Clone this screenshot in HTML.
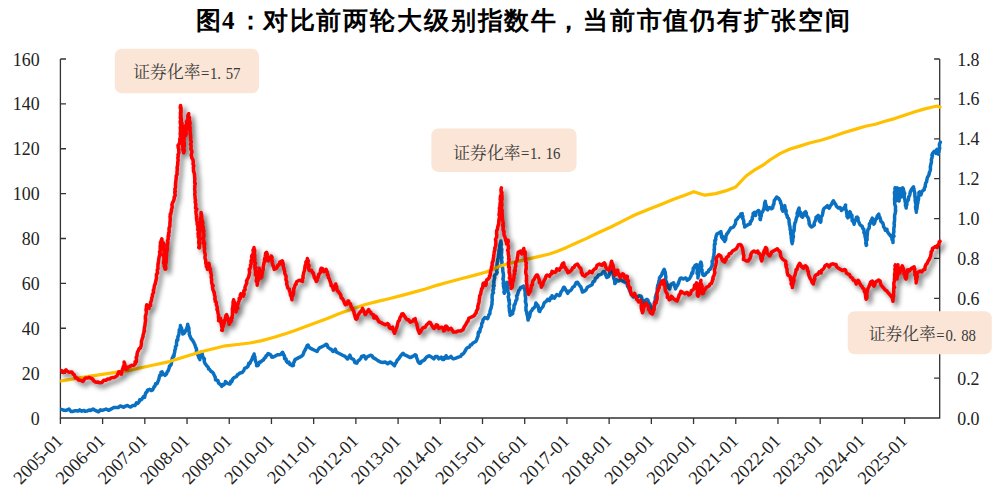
<!DOCTYPE html>
<html><head><meta charset="utf-8"><title>chart</title>
<style>html,body{margin:0;padding:0;background:#fff}svg{display:block}text{font-family:"Liberation Serif",serif}</style></head><body>
<svg width="997" height="493" viewBox="0 0 997 493">
<rect width="997" height="493" fill="#fff"/>
<g fill="#000" font-weight="bold" font-size="25" style="font-family:'Liberation Serif','Noto Serif CJK SC',serif"><text x="196.13" y="29.40">图</text><text x="228.24" y="29.40" font-size="24.90" font-weight="bold" text-anchor="middle" fill="#000" stroke="none">4</text><text x="237.5" y="29.40">：</text><text x="262.81" y="29.40" textLength="293.4" lengthAdjust="spacing">对比前两轮大级别指数牛</text><text x="556.18" y="29.40">，</text><text x="582.85" y="29.40" textLength="266.7" lengthAdjust="spacing">当前市值仍有扩张空间</text></g>
<path d="M60.4 59.0 V418.0 H939.7 V59.0" fill="none" stroke="#333" stroke-width="1.3"/><path d="M60.4 373.12 h5.6 M60.4 328.25 h5.6 M60.4 283.38 h5.6 M60.4 238.50 h5.6 M60.4 193.62 h5.6 M60.4 148.75 h5.6 M60.4 103.88 h5.6 M60.4 59.00 h5.6 M939.7 378.11 h-5.6 M939.7 338.22 h-5.6 M939.7 298.33 h-5.6 M939.7 258.44 h-5.6 M939.7 218.56 h-5.6 M939.7 178.67 h-5.6 M939.7 138.78 h-5.6 M939.7 98.89 h-5.6 M939.7 59.00 h-5.6 M60.40 418.0 v6 M102.61 418.0 v6 M144.82 418.0 v6 M187.03 418.0 v6 M229.24 418.0 v6 M271.45 418.0 v6 M313.66 418.0 v6 M355.87 418.0 v6 M398.08 418.0 v6 M440.29 418.0 v6 M482.50 418.0 v6 M524.71 418.0 v6 M566.92 418.0 v6 M609.13 418.0 v6 M651.34 418.0 v6 M693.55 418.0 v6 M735.76 418.0 v6 M777.97 418.0 v6 M820.18 418.0 v6 M862.39 418.0 v6 M904.60 418.0 v6" fill="none" stroke="#333" stroke-width="1.3"/>
<g font-size="17.90" fill="#222"><text x="39.6" y="424.50" text-anchor="end">0</text><text x="39.6" y="379.62" text-anchor="end">20</text><text x="39.6" y="334.75" text-anchor="end">40</text><text x="39.6" y="289.88" text-anchor="end">60</text><text x="39.6" y="245.00" text-anchor="end">80</text><text x="39.6" y="200.12" text-anchor="end">100</text><text x="39.6" y="155.25" text-anchor="end">120</text><text x="39.6" y="110.38" text-anchor="end">140</text><text x="39.6" y="65.50" text-anchor="end">160</text><text x="957.2" y="424.50">0.0</text><text x="957.2" y="384.61">0.2</text><text x="957.2" y="344.72">0.4</text><text x="957.2" y="304.83">0.6</text><text x="957.2" y="264.94">0.8</text><text x="957.2" y="225.06">1.0</text><text x="957.2" y="185.17">1.2</text><text x="957.2" y="145.28">1.4</text><text x="957.2" y="105.39">1.6</text><text x="957.2" y="65.50">1.8</text><text transform="translate(64.10 441.9) rotate(-45)" text-anchor="end" font-size="18.4">2005-01</text><text transform="translate(106.31 441.9) rotate(-45)" text-anchor="end" font-size="18.4">2006-01</text><text transform="translate(148.52 441.9) rotate(-45)" text-anchor="end" font-size="18.4">2007-01</text><text transform="translate(190.73 441.9) rotate(-45)" text-anchor="end" font-size="18.4">2008-01</text><text transform="translate(232.94 441.9) rotate(-45)" text-anchor="end" font-size="18.4">2009-01</text><text transform="translate(275.15 441.9) rotate(-45)" text-anchor="end" font-size="18.4">2010-01</text><text transform="translate(317.36 441.9) rotate(-45)" text-anchor="end" font-size="18.4">2011-01</text><text transform="translate(359.57 441.9) rotate(-45)" text-anchor="end" font-size="18.4">2012-01</text><text transform="translate(401.78 441.9) rotate(-45)" text-anchor="end" font-size="18.4">2013-01</text><text transform="translate(443.99 441.9) rotate(-45)" text-anchor="end" font-size="18.4">2014-01</text><text transform="translate(486.20 441.9) rotate(-45)" text-anchor="end" font-size="18.4">2015-01</text><text transform="translate(528.41 441.9) rotate(-45)" text-anchor="end" font-size="18.4">2016-01</text><text transform="translate(570.62 441.9) rotate(-45)" text-anchor="end" font-size="18.4">2017-01</text><text transform="translate(612.83 441.9) rotate(-45)" text-anchor="end" font-size="18.4">2018-01</text><text transform="translate(655.04 441.9) rotate(-45)" text-anchor="end" font-size="18.4">2019-01</text><text transform="translate(697.25 441.9) rotate(-45)" text-anchor="end" font-size="18.4">2020-01</text><text transform="translate(739.46 441.9) rotate(-45)" text-anchor="end" font-size="18.4">2021-01</text><text transform="translate(781.67 441.9) rotate(-45)" text-anchor="end" font-size="18.4">2022-01</text><text transform="translate(823.88 441.9) rotate(-45)" text-anchor="end" font-size="18.4">2023-01</text><text transform="translate(866.09 441.9) rotate(-45)" text-anchor="end" font-size="18.4">2024-01</text><text transform="translate(908.30 441.9) rotate(-45)" text-anchor="end" font-size="18.4">2025-01</text></g>
<clipPath id="cp"><rect x="60.2" y="40" width="890" height="400"/></clipPath><g clip-path="url(#cp)">
<defs><filter id="sh" x="-5%" y="-5%" width="110%" height="115%"><feGaussianBlur stdDeviation="2.4"/></filter></defs>
<path d="M60.4 409.1 L62.3 409.6 L64.2 410.3 L65.9 410.4 L67.2 410.0 L69.0 409.0 L71.0 411.5 L72.2 411.6 L74.5 410.8 L76.0 410.8 L78.2 411.1 L79.7 409.9 L81.8 411.2 L84.0 410.4 L85.1 411.3 L86.9 411.1 L89.1 410.0 L90.5 410.5 L93.1 409.1 L94.3 409.8 L96.4 410.8 L98.6 411.8 L100.5 409.8 L102.0 410.3 L103.7 410.0 L106.0 409.0 L107.8 410.0 L109.0 410.3 L111.0 409.1 L112.5 408.3 L114.2 407.4 L116.6 407.4 L118.3 407.6 L120.3 405.9 L121.7 406.4 L123.7 407.3 L125.6 406.1 L127.4 405.5 L128.8 406.4 L130.6 407.0 L132.9 405.6 L134.9 405.6 L136.4 402.9 L137.8 403.5 L139.1 401.9 L139.7 399.7 L141.4 399.8 L142.8 397.8 L143.5 396.6 L144.6 397.3 L145.1 394.9 L145.7 392.9 L147.0 391.8 L147.5 390.1 L149.6 389.3 L151.2 390.6 L152.7 389.9 L154.1 386.6 L154.8 386.4 L155.6 383.8 L157.1 383.7 L158.0 381.4 L158.5 380.3 L158.9 379.0 L159.3 377.0 L159.9 375.0 L161.4 375.1 L161.0 372.4 L162.1 371.8 L163.1 374.3 L163.8 374.0 L165.0 375.5 L166.4 374.1 L167.1 372.1 L168.2 370.6 L169.2 367.8 L169.4 366.1 L169.6 366.6 L171.1 364.7 L171.5 362.8 L171.8 360.9 L172.2 358.3 L173.1 356.9 L173.2 355.8 L174.0 356.1 L174.1 354.5 L174.8 351.7 L174.8 350.2 L175.5 348.7 L175.4 346.9 L176.6 345.3 L176.5 345.3 L176.5 342.6 L176.8 340.0 L177.7 340.3 L177.9 337.7 L177.9 336.5 L178.5 335.7 L178.9 333.8 L179.2 331.5 L179.3 329.7 L179.9 329.4 L180.5 326.6 L180.4 325.6 L180.9 327.7 L181.4 327.7 L182.0 330.0 L182.6 332.3 L182.8 334.1 L184.3 333.2 L185.2 331.6 L185.9 329.8 L186.5 329.3 L187.1 326.9 L187.4 326.8 L187.7 324.3 L188.4 327.1 L188.3 327.4 L188.9 328.0 L188.9 331.6 L189.4 332.4 L189.2 334.1 L189.9 335.7 L190.1 336.5 L191.2 338.8 L192.5 340.2 L193.6 342.1 L194.4 343.8 L195.0 345.0 L195.1 345.5 L196.1 348.3 L196.6 349.4 L196.4 352.2 L197.4 353.6 L197.7 355.0 L198.2 355.4 L198.9 357.6 L199.8 359.6 L199.7 357.0 L200.3 355.9 L200.8 354.5 L201.1 352.3 L202.1 353.2 L202.2 354.1 L202.8 356.3 L203.5 358.4 L204.4 358.9 L204.2 361.1 L204.9 363.3 L205.9 364.5 L206.7 365.8 L208.2 367.2 L208.6 369.0 L209.6 369.4 L210.9 371.4 L211.6 371.5 L213.2 373.0 L214.0 374.7 L215.2 377.1 L215.3 377.7 L215.6 379.9 L216.9 380.3 L217.9 380.5 L218.5 383.1 L220.2 384.3 L220.7 384.9 L221.7 386.4 L222.4 384.5 L223.4 385.2 L224.9 384.0 L225.4 381.5 L227.0 383.0 L229.1 384.0 L230.0 384.0 L230.7 381.3 L231.8 381.6 L232.7 379.1 L234.5 377.3 L236.4 376.7 L237.7 374.5 L238.6 374.1 L240.0 373.0 L242.2 372.5 L243.7 370.6 L244.9 368.1 L246.5 367.6 L247.3 366.9 L248.0 366.2 L248.8 363.3 L249.8 363.6 L251.0 360.9 L251.6 359.8 L252.3 358.5 L252.5 357.4 L253.3 356.1 L254.1 354.0 L254.3 355.8 L254.9 356.9 L255.0 359.0 L255.6 361.4 L255.6 361.2 L256.6 363.9 L256.6 365.7 L258.0 365.5 L259.6 362.0 L260.7 362.1 L262.0 360.7 L263.3 360.2 L264.3 358.4 L265.7 357.2 L266.1 355.7 L266.8 355.7 L268.0 353.6 L269.6 354.2 L270.8 354.9 L271.7 357.2 L273.4 357.1 L275.3 356.0 L277.4 354.8 L279.0 354.8 L280.4 354.6 L282.6 352.3 L283.3 353.7 L283.6 355.2 L284.5 355.7 L284.6 358.8 L286.0 358.7 L286.3 360.9 L287.6 362.8 L288.9 362.1 L289.9 364.5 L292.3 365.7 L293.5 365.4 L293.2 363.2 L294.1 362.1 L295.0 359.6 L296.4 358.9 L298.8 357.6 L301.3 356.4 L302.9 355.0 L303.7 352.8 L304.1 351.7 L305.7 349.0 L306.1 347.9 L307.2 345.5 L308.1 345.0 L308.6 346.2 L309.8 347.9 L312.2 349.1 L314.6 350.3 L317.1 351.5 L317.8 350.0 L319.5 347.9 L321.9 346.7 L324.4 345.5 L326.3 344.2 L327.1 344.8 L328.0 347.4 L330.5 349.1 L331.2 349.2 L332.9 351.5 L334.4 350.5 L335.3 349.1 L336.2 351.9 L337.8 352.8 L340.2 354.0 L342.6 355.2 L345.1 356.4 L346.1 357.5 L347.5 358.9 L348.7 357.3 L349.9 355.2 L351.0 358.2 L352.4 358.9 L353.8 359.5 L354.8 362.5 L356.8 363.2 L358.1 360.7 L359.2 360.1 L360.8 358.3 L361.6 356.4 L364.1 355.7 L365.0 357.4 L365.8 358.9 L367.0 357.0 L368.2 356.4 L370.6 355.2 L372.1 355.8 L373.1 357.6 L375.5 358.9 L377.9 360.6 L380.4 362.0 L382.8 362.5 L385.2 362.0 L387.7 363.7 L390.1 362.0 L392.5 363.7 L394.5 365.7 L395.0 364.1 L396.2 362.5 L397.3 360.0 L398.6 358.9 L399.5 357.6 L401.1 355.2 L403.0 353.3 L404.4 354.8 L405.4 355.2 L407.9 356.4 L410.3 357.6 L412.7 356.4 L415.2 354.7 L416.2 355.4 L416.4 357.2 L417.6 360.1 L418.2 361.9 L419.3 363.2 L420.5 363.2 L421.7 361.3 L424.2 360.1 L425.7 358.1 L426.6 357.1 L429.1 355.7 L431.5 357.1 L433.9 358.9 L435.4 356.4 L436.4 356.4 L437.2 356.5 L438.8 358.9 L441.2 357.1 L442.6 359.5 L443.7 359.6 L444.1 357.6 L445.5 358.2 L446.1 355.7 L446.9 357.7 L448.5 358.1 L451.0 356.4 L452.0 358.0 L453.4 358.9 L455.8 358.1 L458.3 357.1 L460.7 356.4 L461.7 354.5 L463.1 354.0 L464.2 352.5 L465.6 350.3 L466.4 348.6 L468.0 347.4 L469.4 347.1 L470.4 345.0 L471.6 344.8 L472.9 343.0 L475.3 341.8 L476.1 341.1 L477.0 338.8 L477.7 336.9 L478.1 336.1 L478.2 333.0 L478.7 331.8 L479.7 332.1 L480.2 329.6 L480.1 328.9 L481.5 326.6 L481.6 325.6 L481.7 323.7 L482.6 322.3 L483.1 319.8 L484.1 318.8 L485.0 317.5 L487.5 318.7 L487.9 318.1 L488.9 314.8 L489.9 313.8 L490.0 311.3 L490.4 309.9 L491.2 307.7 L491.4 307.0 L491.4 306.2 L492.0 304.0 L492.0 301.5 L492.3 300.3 L492.3 299.2 L492.1 298.3 L492.2 295.3 L492.4 293.9 L493.5 292.8 L492.9 291.1 L493.0 289.8 L493.7 289.0 L493.3 285.9 L494.2 285.7 L493.8 284.1 L494.0 282.2 L493.8 281.6 L494.8 277.4 L494.3 276.5 L495.0 274.9 L496.5 273.8 L497.2 272.4 L496.7 270.8 L496.6 268.1 L497.2 268.7 L496.9 267.2 L497.1 263.9 L497.3 262.7 L497.8 260.8 L497.6 259.4 L498.7 257.1 L498.4 256.8 L498.6 254.4 L498.9 253.5 L498.9 251.1 L499.3 249.7 L499.6 250.3 L499.4 248.6 L500.0 244.9 L500.1 244.6 L500.6 242.7 L500.9 241.0 L501.1 242.2 L501.5 244.7 L501.1 245.1 L501.0 248.1 L501.2 247.8 L501.8 249.3 L501.6 251.9 L501.5 254.2 L501.3 253.9 L501.4 255.7 L502.0 257.7 L501.6 258.7 L501.7 261.4 L502.0 261.6 L501.9 263.6 L502.2 265.2 L502.6 267.5 L502.8 269.4 L502.8 270.6 L502.8 271.4 L503.2 272.8 L503.5 274.9 L503.3 276.7 L503.5 277.0 L502.9 278.9 L503.1 279.6 L503.7 281.7 L503.2 283.3 L503.8 286.2 L503.4 285.8 L503.8 287.6 L504.5 291.1 L503.9 292.0 L504.3 293.3 L504.5 291.3 L504.5 289.2 L505.7 288.0 L505.7 286.0 L506.0 284.8 L507.2 282.3 L507.0 284.0 L507.4 286.0 L507.9 288.2 L507.6 287.7 L507.9 291.3 L508.0 291.7 L508.7 294.1 L508.8 295.1 L508.1 296.8 L508.6 298.2 L508.7 300.5 L509.4 300.1 L509.1 301.6 L509.6 304.3 L509.0 305.6 L509.1 306.9 L509.4 309.2 L509.4 311.2 L509.6 311.7 L510.3 314.9 L510.1 315.2 L512.1 314.0 L512.7 313.4 L512.7 310.7 L513.5 310.3 L514.0 307.9 L514.0 305.2 L515.0 303.9 L514.9 304.6 L515.4 302.8 L515.9 300.6 L516.7 299.6 L517.0 298.0 L516.6 295.9 L517.6 294.8 L517.9 293.3 L518.8 290.6 L519.8 289.6 L520.3 287.9 L521.8 287.2 L523.7 286.0 L523.9 287.1 L524.4 289.2 L525.0 290.6 L525.2 293.3 L525.1 294.6 L525.2 295.7 L525.6 297.4 L525.6 298.5 L525.6 300.8 L525.3 301.4 L525.7 302.4 L526.3 305.2 L525.9 307.1 L526.0 309.2 L525.9 310.2 L526.7 311.9 L526.7 312.8 L527.4 315.8 L527.7 316.9 L527.9 318.9 L528.1 320.1 L528.6 317.8 L528.8 318.1 L529.6 316.7 L530.1 314.0 L530.5 311.9 L532.0 310.3 L532.7 308.8 L534.0 307.9 L535.0 306.7 L535.4 305.7 L535.9 303.0 L536.5 304.0 L537.9 305.5 L538.4 307.5 L538.7 309.1 L539.0 311.0 L539.8 311.5 L540.5 309.2 L541.8 307.9 L543.1 306.4 L543.7 304.2 L544.8 302.2 L545.6 301.8 L546.3 301.3 L547.6 299.4 L549.5 300.6 L550.4 297.8 L551.6 298.2 L552.0 295.7 L553.1 297.5 L554.4 298.2 L555.7 296.1 L556.8 294.5 L559.3 295.7 L559.9 295.2 L561.0 291.9 L561.7 290.9 L562.4 290.2 L563.7 287.2 L564.2 287.2 L565.6 289.6 L566.8 291.6 L567.8 293.3 L568.7 291.3 L570.2 290.9 L571.6 289.3 L572.7 287.2 L574.1 286.5 L575.1 284.8 L576.3 282.4 L577.5 282.3 L579.2 285.0 L580.0 286.0 L580.9 287.0 L581.6 289.4 L582.0 289.8 L582.4 292.1 L584.8 290.9 L586.0 289.9 L587.3 287.2 L589.7 286.0 L592.1 284.8 L593.0 281.9 L594.6 281.1 L595.4 278.4 L597.0 277.5 L598.3 275.3 L599.4 275.0 L601.9 273.8 L603.4 271.6 L604.3 271.4 L605.3 273.5 L605.8 275.2 L606.6 277.0 L606.7 277.5 L608.4 276.6 L609.2 275.0 L609.6 272.4 L610.5 270.7 L611.6 270.2 L612.1 271.5 L613.0 273.9 L613.3 275.0 L613.5 275.7 L613.8 278.6 L614.3 279.2 L614.7 281.5 L614.8 283.6 L616.2 281.7 L616.7 279.9 L618.7 281.1 L620.6 279.9 L622.6 281.1 L625.0 282.3 L627.4 283.6 L627.5 286.2 L628.6 287.3 L628.5 287.6 L629.4 289.6 L629.9 291.2 L631.1 293.5 L631.3 294.5 L632.1 295.4 L633.3 296.9 L635.2 295.7 L637.2 296.9 L639.1 295.7 L641.1 296.2 L641.8 297.9 L642.1 300.4 L642.4 300.8 L643.0 303.0 L644.0 302.7 L645.0 300.6 L646.9 299.4 L647.8 300.0 L648.9 303.0 L650.0 304.2 L650.8 306.7 L651.5 307.4 L652.8 310.3 L653.1 307.8 L653.6 308.7 L654.4 305.7 L654.2 303.4 L654.7 303.0 L654.5 302.2 L655.2 300.5 L655.4 296.9 L655.9 296.4 L655.9 295.0 L656.7 293.3 L657.4 291.0 L657.2 290.0 L657.3 287.5 L658.0 288.2 L657.6 285.5 L658.6 283.6 L658.6 282.3 L659.0 280.7 L659.3 280.4 L659.5 277.9 L660.0 277.0 L661.4 275.5 L662.4 272.6 L663.1 272.0 L663.4 270.6 L664.3 269.4 L665.0 271.8 L665.3 272.2 L665.4 274.7 L665.5 274.7 L665.9 277.0 L665.3 280.1 L665.8 280.3 L666.2 281.7 L666.9 283.5 L667.8 285.2 L668.3 287.5 L669.7 288.9 L670.3 286.4 L670.9 284.5 L671.6 284.0 L673.6 282.8 L674.5 285.3 L674.1 285.0 L675.5 288.2 L675.5 288.9 L676.1 287.3 L677.5 285.2 L678.6 282.9 L678.3 283.1 L679.4 280.3 L680.3 278.3 L681.4 277.9 L683.3 279.1 L685.3 277.9 L686.5 278.5 L687.2 280.3 L689.2 279.1 L690.4 277.0 L691.1 275.5 L691.8 272.9 L692.6 273.5 L693.1 270.6 L693.3 267.9 L694.2 267.7 L695.0 265.7 L696.5 264.5 L696.6 265.8 L697.3 268.1 L697.1 268.9 L697.3 270.6 L697.0 273.5 L697.8 274.5 L698.0 274.9 L697.9 277.9 L698.1 276.2 L698.6 275.1 L698.5 272.2 L698.5 270.6 L698.4 269.9 L699.0 268.2 L699.7 267.6 L699.4 265.7 L700.2 263.6 L700.9 262.1 L701.5 264.2 L701.8 266.4 L701.1 266.3 L701.3 269.5 L702.1 269.8 L702.0 271.5 L702.3 273.0 L703.1 275.3 L704.3 275.5 L705.6 274.4 L706.2 273.0 L708.2 271.8 L709.0 269.7 L710.1 269.4 L711.1 267.5 L712.1 265.7 L712.3 263.4 L712.1 261.5 L712.4 260.8 L712.8 260.9 L713.6 257.5 L713.3 257.2 L713.9 255.9 L714.0 253.6 L714.3 251.6 L714.1 249.5 L714.5 249.5 L714.4 247.9 L714.4 244.2 L715.2 244.1 L714.8 240.6 L715.5 240.2 L715.8 239.5 L715.7 238.1 L716.2 235.8 L716.9 234.1 L718.9 232.9 L720.8 231.6 L721.3 233.7 L721.3 234.9 L721.6 237.2 L722.6 236.4 L722.8 238.9 L723.3 239.1 L724.7 241.4 L725.3 239.8 L725.7 239.5 L726.0 235.9 L725.9 236.4 L726.7 234.1 L727.4 233.5 L728.6 231.6 L730.0 229.4 L730.7 228.0 L732.4 227.6 L733.7 226.7 L734.9 224.5 L735.4 223.9 L735.8 220.4 L736.7 219.7 L738.1 217.8 L738.5 217.2 L740.3 216.0 L740.8 214.0 L742.2 213.6 L742.0 214.7 L742.9 216.4 L742.7 218.5 L743.4 219.7 L743.7 220.5 L743.9 223.8 L744.7 225.3 L744.6 227.0 L746.4 225.7 L748.3 224.5 L750.1 223.9 L750.4 221.6 L751.3 221.1 L751.9 219.7 L752.3 219.2 L752.4 217.0 L753.2 215.8 L753.1 213.6 L754.3 212.4 L754.5 213.3 L755.6 215.4 L756.0 212.9 L756.8 211.7 L758.6 210.5 L759.8 212.4 L759.7 215.2 L760.3 216.3 L759.9 219.0 L760.4 219.7 L760.5 218.8 L761.0 215.6 L761.2 216.0 L761.4 213.6 L762.9 211.1 L764.0 208.1 L764.1 207.5 L764.5 205.7 L764.4 205.0 L764.8 202.7 L765.3 201.4 L765.2 202.0 L766.0 205.2 L766.5 206.3 L766.7 209.1 L767.7 209.9 L768.3 208.2 L769.6 207.5 L771.4 208.7 L772.6 208.0 L773.2 205.0 L773.8 204.3 L774.3 200.4 L775.0 199.6 L776.6 197.1 L778.7 198.4 L779.1 199.2 L780.5 201.4 L780.6 203.1 L781.1 203.4 L781.9 207.1 L781.7 207.5 L781.9 209.2 L782.9 211.1 L783.1 210.0 L783.7 207.6 L784.8 205.7 L785.1 208.6 L785.1 208.8 L786.2 210.8 L786.0 212.4 L786.1 213.8 L787.2 215.6 L787.2 217.2 L788.3 218.1 L789.0 219.7 L789.1 222.6 L789.5 224.1 L789.3 224.2 L790.0 227.0 L790.2 229.9 L790.9 230.5 L790.6 232.6 L790.8 234.3 L791.3 235.4 L791.2 237.0 L791.5 239.9 L791.6 241.0 L792.2 243.7 L792.1 241.3 L792.8 241.2 L792.8 239.1 L793.5 236.3 L792.8 234.5 L793.3 232.6 L793.5 231.8 L794.1 230.6 L794.2 227.9 L794.3 226.2 L794.5 225.7 L794.7 223.6 L795.5 221.7 L795.9 220.4 L796.1 219.5 L796.3 218.4 L796.6 217.3 L797.4 216.4 L797.1 213.3 L797.5 212.4 L797.7 211.9 L798.5 209.3 L799.1 208.1 L799.2 211.2 L800.4 212.1 L800.6 213.6 L801.0 216.0 L802.4 217.2 L802.7 217.0 L803.6 215.3 L804.0 213.0 L805.5 211.7 L806.3 213.0 L806.3 215.0 L806.9 216.0 L808.5 218.4 L808.8 220.6 L809.2 222.0 L809.1 223.8 L809.7 224.5 L810.1 225.7 L811.5 227.0 L813.4 225.7 L814.3 224.9 L814.1 223.4 L815.2 220.9 L815.8 219.5 L816.1 217.0 L817.0 216.6 L818.2 215.4 L819.0 218.5 L819.4 218.4 L819.4 220.9 L820.7 222.1 L820.9 221.0 L821.0 219.4 L821.1 216.9 L821.9 216.0 L822.4 214.8 L822.7 213.4 L823.1 211.1 L823.5 209.4 L824.3 208.1 L826.1 206.9 L827.4 205.7 L828.1 207.5 L829.2 208.1 L830.4 205.7 L831.6 204.4 L832.2 202.6 L833.4 200.8 L834.7 203.2 L835.8 204.6 L836.5 206.3 L838.3 208.1 L840.1 207.5 L840.5 207.9 L841.4 210.5 L843.2 208.7 L843.7 208.4 L845.0 206.3 L845.6 205.0 L845.4 205.7 L845.7 209.4 L846.3 210.4 L846.6 212.4 L847.0 215.0 L846.9 216.1 L847.8 217.8 L848.6 217.0 L849.1 214.9 L849.3 213.0 L850.0 211.7 L850.7 213.6 L851.1 215.8 L851.9 215.3 L852.0 218.1 L852.2 220.9 L852.9 220.0 L853.4 221.6 L854.1 224.2 L854.6 221.1 L855.7 220.1 L856.4 217.3 L857.3 217.1 L858.1 218.3 L858.0 220.2 L858.9 222.2 L860.1 224.9 L860.5 225.2 L862.2 226.2 L862.7 228.2 L863.8 229.3 L864.0 230.8 L863.9 232.6 L865.0 234.5 L865.0 236.4 L865.6 238.4 L865.7 239.9 L866.1 241.9 L865.7 243.2 L866.2 244.4 L866.2 245.5 L866.6 245.0 L866.2 242.3 L866.4 240.5 L867.1 239.9 L867.0 237.1 L867.0 237.3 L867.4 233.8 L867.4 233.3 L867.6 231.3 L868.0 229.4 L869.1 228.3 L869.4 225.6 L869.4 223.7 L870.8 223.1 L870.7 221.2 L871.3 220.5 L872.3 218.1 L872.3 220.7 L872.6 220.2 L873.6 221.5 L873.9 224.2 L874.5 223.2 L875.0 221.6 L875.6 219.1 L876.5 218.7 L877.2 216.1 L878.8 214.1 L879.0 215.8 L879.8 217.2 L880.4 219.1 L881.0 221.5 L882.0 222.2 L882.9 223.3 L883.2 224.4 L883.7 227.2 L884.7 228.0 L885.3 230.3 L886.9 229.3 L887.3 231.5 L888.5 233.3 L890.2 235.4 L891.8 237.4 L892.1 239.7 L893.0 240.3 L893.0 242.5 L892.9 241.5 L892.9 239.5 L893.0 237.4 L894.0 236.1 L893.2 234.4 L893.8 232.3 L893.9 230.8 L893.7 229.1 L894.1 227.2 L894.4 225.1 L894.1 224.0 L894.2 222.1 L894.3 222.8 L894.6 220.1 L894.6 217.4 L894.5 217.9 L894.7 214.7 L895.1 213.9 L895.7 210.6 L895.4 210.0 L895.5 208.0 L895.6 206.7 L894.7 204.1 L894.6 203.1 L894.8 203.0 L894.6 200.1 L894.5 199.0 L894.6 198.3 L894.8 195.7 L894.6 194.5 L894.4 192.4 L895.3 190.8 L894.9 188.9 L895.1 187.8 L895.3 189.7 L895.3 190.3 L895.0 193.4 L895.9 193.4 L895.3 197.1 L896.0 196.6 L896.1 198.8 L896.1 201.0 L896.2 198.1 L896.2 196.8 L896.5 196.6 L897.0 195.3 L897.1 193.1 L896.8 190.3 L897.1 189.0 L897.1 187.8 L897.6 188.3 L897.7 190.5 L898.0 193.5 L898.0 193.6 L897.4 196.7 L898.1 197.6 L897.8 198.3 L898.1 200.0 L899.1 201.0 L899.2 198.6 L899.3 199.1 L899.7 195.8 L899.8 194.7 L899.6 193.3 L900.2 190.7 L899.8 190.8 L900.2 188.8 L900.5 190.4 L901.1 192.1 L900.7 194.4 L901.3 194.9 L901.4 196.9 L902.0 194.5 L901.8 192.7 L902.0 191.8 L901.9 189.7 L902.7 190.6 L902.6 187.8 L903.2 188.6 L903.8 190.9 L903.6 191.3 L904.7 193.4 L904.2 195.4 L904.2 196.5 L905.1 200.6 L905.0 201.0 L905.7 203.9 L905.4 205.3 L905.7 205.5 L906.2 208.1 L906.2 205.2 L906.8 205.1 L907.0 201.5 L907.5 201.0 L908.4 199.9 L908.7 196.9 L909.5 195.8 L909.8 194.6 L910.3 191.9 L911.2 190.0 L911.9 188.8 L913.5 186.8 L913.4 187.8 L914.1 189.2 L914.0 190.4 L914.8 192.9 L914.8 193.9 L915.0 197.4 L915.4 198.8 L915.1 199.9 L915.3 201.1 L915.6 203.0 L916.1 204.9 L915.6 206.8 L915.5 206.7 L915.8 209.3 L916.0 209.3 L916.4 212.2 L916.3 209.7 L916.9 209.0 L917.2 206.3 L917.2 205.1 L917.9 202.7 L917.8 200.8 L918.2 200.7 L918.6 198.5 L918.4 196.9 L919.0 195.6 L918.9 192.5 L919.6 191.9 L920.3 193.3 L920.9 194.9 L921.9 191.8 L922.5 190.9 L924.1 189.8 L924.5 187.7 L925.3 186.5 L925.3 184.8 L925.9 182.6 L926.6 181.7 L926.9 179.7 L927.5 177.2 L928.6 175.6 L929.2 173.9 L929.3 172.6 L930.2 170.6 L930.5 168.8 L930.3 166.5 L930.4 166.8 L930.9 164.1 L931.4 162.5 L931.4 159.7 L931.7 158.5 L931.6 159.0 L932.4 156.0 L931.9 155.2 L932.6 153.3 L934.2 151.3 L935.9 153.3 L936.2 150.6 L937.1 149.3 L937.4 152.0 L937.9 152.0 L938.3 154.3 L938.2 152.7 L939.0 151.5 L939.1 149.4 L939.7 148.6 L939.5 146.2 L939.4 144.5 L940.3 142.2" fill="none" stroke="#0a70c2" stroke-width="3.5" stroke-linejoin="round" stroke-linecap="round"/>
<path d="M60.4 381.1 L79.3 377.9 L103.7 374.2 L128.0 370.6 L152.4 365.2 L169.4 361.6 L181.6 357.7 L191.3 354.8 L201.1 351.8 L213.2 348.7 L225.4 345.8 L237.6 344.5 L249.7 343.0 L261.9 340.6 L274.1 337.3 L286.3 333.4 L295.0 330.4 L303.7 327.2 L315.9 322.8 L328.0 318.2 L340.2 313.3 L352.4 308.9 L364.5 304.8 L376.7 301.6 L388.9 298.7 L401.1 295.6 L413.2 292.4 L425.4 289.0 L437.6 285.1 L449.7 281.7 L461.9 278.5 L474.1 275.4 L486.3 272.0 L500.9 265.7 L513.0 262.5 L525.2 259.6 L537.4 256.9 L549.5 254.0 L556.8 251.5 L566.6 247.4 L576.3 243.0 L586.1 238.6 L598.2 232.8 L610.4 227.2 L622.6 221.1 L634.7 215.0 L650.0 208.8 L662.2 203.9 L674.3 199.1 L684.1 195.4 L693.8 191.8 L704.8 195.2 L715.7 193.6 L725.5 190.9 L735.8 186.9 L746.1 176.0 L754.7 169.9 L763.2 165.0 L770.6 159.5 L780.3 153.4 L790.1 149.0 L799.8 146.1 L809.5 143.0 L821.7 140.0 L831.4 136.9 L843.6 132.7 L855.8 129.1 L865.5 126.2 L875.3 124.2 L885.0 121.3 L894.7 118.6 L904.5 115.2 L914.2 112.0 L923.9 109.1 L933.7 106.7 L937.3 106.0 L940.0 107.2" fill="none" stroke="#ffc000" stroke-width="3.2" stroke-linejoin="round" stroke-linecap="round"/>
<path id="rp" d="M60.4 370.6 L62.0 370.8 L63.5 372.5 L64.9 370.8 L66.0 369.9 L67.3 371.4 L69.6 372.3 L71.8 371.9 L73.3 374.2 L74.2 374.8 L75.7 378.1 L76.9 377.9 L78.7 380.1 L80.6 380.3 L83.0 381.5 L83.8 380.1 L85.4 377.9 L87.7 378.0 L89.1 377.4 L91.2 378.3 L92.7 379.1 L93.5 380.6 L95.3 381.9 L96.4 382.3 L97.7 382.0 L100.0 382.8 L101.8 382.6 L103.7 380.3 L105.9 380.3 L107.3 379.1 L109.6 379.1 L111.0 377.9 L113.2 377.4 L114.6 377.4 L116.3 376.3 L117.1 375.5 L117.5 374.7 L118.8 371.8 L119.7 372.0 L121.2 374.2 L121.5 374.1 L121.8 371.7 L122.3 369.9 L122.9 368.0 L123.2 366.9 L123.9 365.6 L124.3 364.2 L124.1 362.1 L125.0 364.9 L124.5 366.2 L125.7 368.6 L125.6 369.4 L126.9 369.3 L128.0 366.9 L129.5 366.7 L131.7 365.2 L133.6 365.4 L135.3 363.8 L135.1 361.7 L136.4 361.8 L136.5 358.1 L136.1 357.5 L137.1 355.7 L137.0 354.8 L137.0 354.3 L137.5 352.0 L138.3 350.8 L139.0 348.7 L140.3 348.1 L141.2 345.5 L141.4 343.8 L141.4 341.5 L141.7 340.4 L142.6 337.5 L143.1 336.5 L143.0 335.2 L144.0 332.0 L144.4 331.1 L144.0 331.1 L144.4 328.3 L144.6 326.8 L144.9 325.7 L145.1 323.9 L145.1 323.4 L145.6 320.5 L145.3 318.4 L145.7 319.0 L145.3 316.3 L146.0 314.6 L146.2 312.7 L146.4 310.0 L145.9 310.0 L146.4 308.3 L146.4 306.8 L146.7 304.7 L148.2 307.1 L149.1 308.3 L149.1 305.3 L150.6 305.4 L150.5 302.5 L150.9 301.8 L151.6 299.8 L151.7 297.9 L152.4 296.4 L152.5 294.7 L152.4 294.5 L153.6 292.4 L153.3 290.1 L153.7 290.0 L154.3 286.7 L154.2 286.6 L154.9 284.1 L155.3 284.0 L155.4 282.5 L156.1 280.0 L156.5 278.0 L156.5 278.0 L156.4 274.6 L156.7 273.9 L157.6 273.2 L157.2 269.9 L157.7 269.2 L158.0 268.6 L157.9 267.1 L158.0 263.6 L158.2 264.0 L158.5 261.2 L158.7 259.9 L158.6 259.8 L159.1 257.1 L159.8 254.2 L160.0 255.1 L160.2 252.3 L159.5 252.2 L160.4 250.2 L160.2 248.4 L160.2 245.8 L160.5 244.9 L160.4 242.6 L160.9 242.1 L161.0 241.2 L161.8 238.8 L162.1 241.6 L162.5 243.4 L162.3 245.0 L162.6 244.2 L162.2 246.4 L162.6 249.0 L162.8 247.9 L163.5 245.7 L163.0 244.7 L163.4 242.9 L163.9 243.8 L163.8 246.0 L163.2 247.2 L164.0 249.4 L164.0 249.9 L164.1 253.6 L163.2 254.9 L164.3 256.0 L163.7 256.0 L164.0 258.2 L164.0 260.2 L163.5 262.8 L163.7 262.4 L164.2 265.2 L164.2 266.2 L165.2 269.2 L165.8 269.0 L165.6 264.8 L165.6 263.9 L166.2 262.3 L166.2 261.1 L166.2 259.8 L166.3 257.1 L166.6 255.3 L166.5 255.4 L166.4 252.1 L167.0 251.3 L166.9 250.9 L167.3 249.4 L167.2 246.9 L167.3 245.2 L167.8 243.8 L167.9 242.0 L167.6 240.5 L168.2 239.1 L168.1 236.3 L168.8 235.7 L168.4 235.5 L168.7 232.7 L169.2 232.2 L169.0 228.7 L169.6 226.6 L169.9 226.4 L169.9 225.1 L169.9 222.6 L170.1 221.7 L170.3 218.4 L170.0 216.6 L170.1 217.3 L170.3 213.8 L170.6 214.5 L171.5 210.6 L171.3 210.4 L172.0 207.7 L172.2 207.7 L172.2 206.8 L171.9 204.8 L172.7 202.3 L173.5 201.0 L174.3 198.3 L174.1 197.2 L175.2 195.6 L174.7 192.0 L175.4 191.7 L174.8 189.1 L175.4 188.1 L175.6 185.8 L175.5 185.6 L175.6 182.9 L175.8 181.2 L176.0 180.0 L176.2 177.2 L176.3 178.2 L176.2 175.9 L177.1 174.2 L177.0 172.1 L177.1 170.9 L177.4 168.7 L177.0 168.1 L177.8 164.2 L177.7 164.8 L177.8 161.9 L178.2 160.2 L177.8 157.8 L178.3 156.2 L178.0 154.9 L178.4 153.8 L178.9 152.8 L178.7 150.2 L178.9 149.0 L178.3 148.0 L178.0 145.4 L178.6 144.7 L179.8 142.7 L179.8 141.1 L179.8 138.7 L180.3 137.6 L180.6 135.6 L180.3 135.0 L180.2 133.5 L180.6 131.8 L180.4 131.1 L180.6 128.4 L180.2 127.8 L180.9 125.7 L180.4 123.4 L180.2 121.7 L180.8 119.4 L181.1 119.0 L180.3 117.9 L180.6 115.3 L180.4 112.8 L180.9 111.2 L181.1 111.4 L181.0 108.1 L180.5 106.6 L180.6 105.5 L180.2 107.9 L181.1 107.8 L180.6 110.0 L181.1 112.5 L180.7 112.6 L181.0 115.5 L181.0 117.3 L181.3 118.1 L181.3 121.8 L181.2 122.3 L182.0 123.2 L182.0 125.4 L182.3 126.0 L181.3 130.0 L181.6 130.5 L181.7 133.4 L182.4 134.5 L182.6 134.8 L183.0 137.4 L182.9 138.6 L183.0 139.5 L182.9 142.9 L182.1 143.3 L182.5 144.7 L182.5 146.3 L183.1 148.6 L182.8 149.7 L183.6 151.6 L183.7 152.8 L184.3 150.1 L183.6 149.7 L183.7 148.7 L184.3 145.7 L184.4 143.5 L184.1 142.6 L183.9 140.6 L184.1 139.3 L184.1 136.6 L185.0 134.1 L185.1 133.5 L185.0 132.6 L184.7 130.8 L184.7 128.5 L185.2 126.3 L185.9 125.4 L185.4 128.2 L185.6 128.8 L185.6 131.2 L185.7 131.7 L186.0 134.0 L185.7 135.6 L186.3 133.6 L185.9 131.4 L186.0 129.9 L186.7 129.5 L186.9 128.6 L186.3 125.4 L186.9 124.4 L186.8 123.9 L186.5 121.4 L187.5 123.4 L187.3 122.0 L187.4 119.9 L188.0 118.6 L187.7 116.1 L188.1 115.3 L188.7 113.7 L188.4 116.0 L189.5 117.6 L189.1 119.5 L189.5 120.0 L189.6 121.4 L190.2 123.3 L189.5 124.9 L189.7 126.9 L190.1 127.7 L190.2 127.6 L190.0 130.5 L190.2 132.6 L190.3 133.9 L190.6 135.6 L190.7 136.2 L190.7 137.3 L190.7 140.5 L191.4 141.8 L190.5 144.3 L191.2 145.5 L190.9 145.0 L191.2 147.7 L190.8 148.7 L191.9 151.2 L191.9 152.3 L191.2 155.0 L191.8 157.2 L191.8 157.9 L193.0 159.9 L193.3 162.8 L193.0 164.0 L193.8 165.8 L193.3 167.7 L193.5 169.1 L193.6 170.1 L193.4 170.5 L193.8 171.9 L194.4 173.7 L194.6 176.1 L194.7 178.3 L194.9 179.1 L194.7 180.4 L194.7 183.3 L195.3 183.3 L194.7 186.4 L194.9 187.0 L194.6 189.2 L194.7 189.2 L195.0 192.2 L194.7 194.5 L194.9 195.1 L195.0 195.9 L195.1 198.0 L195.1 198.5 L195.6 200.4 L195.2 201.6 L195.8 204.3 L195.8 205.7 L195.5 208.0 L196.0 208.6 L196.8 209.1 L195.9 211.2 L196.1 213.4 L196.4 215.3 L196.7 216.5 L196.4 217.1 L196.8 220.5 L197.2 222.4 L197.2 224.5 L197.4 224.3 L197.9 226.7 L198.2 229.2 L197.7 229.5 L198.9 232.0 L198.0 233.4 L198.7 234.8 L198.3 235.1 L198.3 237.1 L199.1 238.5 L198.7 242.5 L199.0 244.3 L199.6 245.5 L198.7 247.5 L199.3 248.0 L199.5 245.8 L199.0 246.1 L199.9 242.7 L199.5 240.6 L199.9 239.7 L199.4 239.7 L200.1 237.7 L199.9 236.4 L199.8 235.0 L199.7 232.0 L200.1 230.7 L200.2 230.0 L199.9 227.0 L200.5 226.8 L200.3 225.2 L200.1 223.1 L200.1 222.2 L201.0 220.0 L200.3 219.0 L201.2 216.3 L201.4 215.9 L201.0 215.0 L201.1 212.5 L201.6 215.2 L201.5 215.2 L201.7 216.1 L201.6 220.2 L202.3 220.6 L202.1 222.3 L202.9 222.4 L202.4 224.4 L203.1 226.7 L203.4 227.3 L202.7 230.0 L203.9 230.6 L203.5 232.2 L203.8 234.3 L203.9 236.4 L203.3 237.8 L203.2 238.4 L203.8 240.9 L203.4 243.5 L204.5 242.9 L204.5 245.1 L204.1 246.5 L204.6 248.5 L204.4 251.0 L204.8 253.0 L205.3 255.1 L205.2 255.6 L204.9 257.6 L205.7 260.4 L205.8 261.1 L205.8 263.6 L206.4 264.5 L206.3 266.6 L207.1 267.2 L207.4 269.2 L207.8 266.5 L208.0 266.9 L208.6 265.1 L208.8 263.2 L209.1 263.9 L209.5 267.6 L209.6 267.5 L210.4 269.2 L210.2 270.0 L211.0 273.5 L211.4 274.9 L211.5 275.7 L211.1 277.0 L211.8 279.7 L211.5 280.0 L211.7 282.8 L212.0 283.9 L212.8 286.1 L213.2 285.7 L212.5 286.9 L213.0 290.0 L213.7 291.0 L213.9 292.5 L214.4 292.7 L214.4 294.9 L215.1 296.6 L214.8 299.3 L215.2 299.0 L215.2 301.4 L216.3 302.2 L216.3 304.7 L217.2 306.9 L217.4 309.3 L216.9 309.2 L217.6 310.6 L218.0 312.9 L218.3 314.4 L218.7 315.6 L218.4 316.9 L218.8 320.2 L218.6 320.7 L219.3 318.9 L220.5 318.3 L220.2 320.6 L221.1 320.3 L220.9 322.9 L221.2 323.1 L221.7 326.6 L222.3 328.7 L221.7 330.2 L222.5 330.4 L222.4 327.7 L223.1 326.6 L223.8 323.7 L224.2 323.1 L224.5 320.3 L225.5 319.0 L225.4 317.8 L226.1 315.0 L226.6 314.6 L227.2 316.6 L227.8 319.0 L227.4 318.8 L228.6 321.8 L229.0 322.7 L229.1 324.3 L230.0 322.7 L231.5 320.7 L231.1 318.2 L232.3 317.9 L231.9 317.0 L232.6 314.7 L232.4 313.5 L232.5 310.8 L232.3 308.5 L233.3 308.4 L232.8 306.4 L233.1 304.2 L233.2 303.9 L233.0 302.7 L233.6 299.8 L233.9 300.8 L234.6 302.6 L235.0 305.3 L234.3 306.2 L235.2 307.6 L235.2 308.9 L236.2 311.0 L236.0 312.0 L236.6 309.2 L236.9 308.4 L237.8 308.2 L237.3 305.9 L237.7 305.0 L238.5 302.2 L239.3 300.2 L239.2 298.3 L240.4 298.4 L240.3 294.9 L240.9 293.7 L241.7 294.3 L243.3 296.2 L244.2 293.9 L243.7 291.8 L243.9 290.6 L245.0 290.0 L245.2 289.3 L244.9 287.7 L245.8 285.2 L246.8 283.1 L246.5 281.1 L247.0 280.8 L247.2 279.5 L248.2 277.9 L249.0 275.6 L249.3 273.9 L249.7 272.4 L249.6 272.3 L249.2 269.3 L249.7 269.5 L250.7 266.4 L250.6 265.7 L250.4 265.2 L251.2 263.9 L251.0 260.7 L252.3 259.2 L251.6 257.3 L251.9 255.3 L252.6 254.8 L253.4 252.5 L253.0 249.9 L254.2 250.5 L254.0 247.5 L253.8 250.4 L254.7 250.1 L254.6 252.1 L253.9 253.1 L254.8 254.7 L254.7 257.5 L254.8 258.2 L254.9 259.6 L254.6 262.3 L255.5 263.1 L254.7 265.4 L255.6 267.3 L255.0 266.6 L254.9 268.2 L255.5 270.6 L255.6 273.6 L255.4 274.9 L256.5 274.1 L256.8 277.9 L256.5 279.2 L256.2 281.1 L256.8 282.1 L257.1 282.6 L257.2 285.2 L257.4 283.2 L257.4 281.7 L257.8 280.2 L258.4 280.3 L258.5 278.5 L258.8 275.3 L258.0 273.7 L258.9 272.8 L259.0 270.8 L259.5 269.1 L259.1 268.2 L259.4 269.7 L260.2 271.5 L260.2 274.4 L260.6 274.5 L260.7 275.1 L261.1 277.9 L261.7 277.3 L262.1 273.6 L262.5 273.0 L262.0 271.4 L263.0 270.4 L263.3 268.6 L263.1 267.8 L263.5 265.7 L263.9 263.7 L264.0 262.5 L264.9 261.7 L264.4 260.0 L265.0 257.5 L265.1 257.1 L265.6 254.1 L265.6 253.2 L266.5 252.3 L267.3 254.1 L267.5 255.8 L268.0 258.4 L267.9 260.3 L268.4 260.9 L268.9 259.7 L270.2 258.7 L271.3 256.0 L272.1 257.4 L271.6 258.4 L272.4 261.4 L272.1 260.8 L272.4 263.0 L272.9 265.8 L273.5 265.8 L273.8 267.9 L274.2 269.4 L276.0 268.5 L277.4 266.9 L277.8 265.1 L279.2 265.0 L279.8 262.1 L282.3 260.9 L282.5 261.2 L283.4 264.6 L282.6 264.2 L283.4 266.9 L284.2 269.6 L284.0 269.5 L284.8 271.7 L284.7 273.0 L284.9 273.7 L285.5 274.9 L286.1 276.3 L286.0 279.2 L285.9 279.5 L286.9 282.1 L286.6 283.8 L287.1 285.2 L287.9 288.1 L288.0 288.3 L289.4 289.2 L289.6 291.3 L290.1 292.0 L290.4 295.0 L291.5 297.1 L291.8 299.1 L292.0 299.8 L291.8 297.5 L292.4 296.6 L293.3 294.4 L293.6 292.9 L293.1 293.4 L293.7 291.8 L293.8 288.3 L294.4 287.6 L295.1 284.8 L296.1 284.3 L295.8 284.0 L296.9 281.5 L299.3 280.3 L300.8 280.7 L302.5 281.5 L302.5 279.0 L303.2 277.6 L302.9 276.2 L303.5 274.3 L303.5 273.6 L303.8 272.4 L304.5 270.7 L304.9 267.7 L304.9 266.9 L305.4 264.9 L306.0 263.8 L305.9 261.7 L307.3 260.9 L307.3 258.4 L307.7 259.9 L308.3 260.8 L307.8 263.5 L308.9 265.4 L309.1 265.6 L308.4 267.5 L308.9 269.7 L309.3 270.6 L311.7 270.6 L312.6 272.9 L313.2 272.7 L313.9 275.5 L314.5 278.0 L315.5 278.6 L315.7 279.9 L316.4 281.5 L317.2 280.3 L316.9 277.8 L317.9 277.9 L318.7 275.2 L318.8 274.2 L319.4 273.8 L320.4 272.6 L320.4 270.4 L321.2 268.2 L322.6 268.6 L323.7 271.8 L324.7 271.3 L326.1 269.4 L326.7 271.0 L327.3 272.1 L327.4 274.7 L328.1 275.1 L328.5 277.9 L329.4 278.9 L329.6 280.0 L330.2 281.6 L331.0 284.0 L331.1 285.7 L332.2 285.8 L332.8 287.7 L333.4 290.1 L333.6 287.6 L335.1 287.1 L335.2 286.5 L335.8 284.0 L335.8 285.2 L336.6 286.3 L336.9 289.6 L337.7 291.1 L338.3 291.3 L339.2 292.9 L340.7 294.9 L341.2 297.9 L342.3 298.4 L343.1 299.8 L343.6 300.6 L345.1 304.4 L345.6 304.7 L347.1 304.1 L347.9 301.1 L348.7 301.0 L349.0 303.2 L350.5 303.9 L350.8 305.1 L351.2 307.1 L352.1 307.7 L352.6 309.5 L353.8 311.3 L354.1 313.2 L354.7 315.4 L355.2 316.8 L355.6 318.6 L356.5 319.3 L357.3 317.9 L357.5 316.0 L358.9 314.0 L359.7 312.6 L360.2 312.0 L361.9 310.2 L362.6 308.3 L363.5 310.8 L363.3 311.0 L364.7 313.0 L365.0 314.4 L365.6 314.4 L367.4 311.0 L367.8 311.4 L368.7 309.5 L369.2 311.4 L370.7 312.1 L371.0 313.5 L372.3 314.4 L373.4 314.6 L373.7 317.9 L375.0 318.1 L375.5 316.3 L376.2 316.7 L377.9 319.9 L379.0 321.9 L380.4 322.3 L382.8 323.6 L385.2 324.8 L387.7 323.6 L389.0 325.1 L389.0 327.1 L390.1 328.4 L392.5 327.2 L392.5 329.3 L393.7 329.6 L393.5 330.8 L394.5 333.3 L394.9 331.7 L395.2 331.4 L396.2 328.4 L396.5 327.8 L397.1 326.4 L397.5 324.5 L398.1 321.8 L398.6 321.1 L399.3 320.3 L400.2 317.1 L401.1 316.3 L401.8 313.9 L403.0 313.8 L404.3 315.8 L405.4 317.5 L406.4 319.0 L407.9 319.9 L408.6 319.8 L410.3 322.3 L412.7 321.1 L413.6 319.5 L415.2 318.7 L415.4 320.6 L416.3 322.8 L416.9 324.3 L417.0 325.6 L417.6 327.2 L417.5 328.2 L418.5 331.1 L419.4 330.6 L419.3 333.3 L420.7 331.7 L421.7 329.6 L422.5 328.3 L424.2 327.2 L425.0 327.4 L426.6 324.8 L428.4 323.2 L429.1 322.3 L430.3 322.5 L431.5 324.8 L432.4 326.5 L433.9 328.4 L435.0 327.8 L436.4 324.8 L437.5 325.2 L438.8 328.4 L441.2 327.2 L442.7 327.6 L443.7 330.9 L444.9 330.3 L445.5 326.3 L446.1 326.0 L447.3 327.3 L448.5 329.6 L451.0 328.4 L452.0 329.7 L453.4 332.1 L455.8 332.1 L458.3 330.9 L460.7 330.9 L463.1 329.6 L464.1 327.0 L465.3 325.2 L465.6 324.8 L467.3 321.7 L468.0 321.1 L468.7 318.4 L470.4 317.5 L472.9 316.3 L474.1 315.7 L475.3 313.8 L476.1 312.9 L476.5 310.9 L477.7 308.9 L478.0 307.8 L477.7 306.9 L478.7 302.8 L478.7 303.5 L479.1 301.2 L479.3 299.0 L479.7 297.1 L479.6 296.1 L480.8 293.7 L480.9 291.9 L481.3 291.0 L481.6 288.7 L482.5 288.2 L482.7 287.5 L483.0 283.8 L483.6 283.0 L484.3 283.0 L485.6 285.5 L486.2 284.2 L486.2 281.8 L486.7 279.9 L487.6 279.5 L489.4 277.5 L489.5 275.9 L490.2 275.3 L490.4 272.2 L490.8 271.0 L491.4 268.2 L491.3 268.7 L491.6 267.1 L492.2 265.0 L492.1 262.7 L492.8 261.2 L493.2 260.9 L493.2 259.0 L493.8 256.2 L493.7 255.5 L494.0 253.8 L494.3 251.3 L494.7 250.4 L495.1 249.1 L494.7 248.2 L495.5 246.4 L495.9 244.2 L495.8 240.9 L495.7 240.2 L495.5 239.6 L496.7 237.1 L496.8 234.5 L496.6 234.5 L496.6 230.7 L497.2 230.0 L497.4 229.4 L497.8 226.4 L497.9 226.5 L499.0 222.4 L498.7 221.7 L499.1 220.6 L498.9 220.2 L499.7 216.0 L499.0 214.8 L499.1 215.0 L499.3 213.2 L499.6 210.4 L499.4 208.1 L499.9 207.0 L500.0 204.8 L500.1 203.3 L500.7 201.1 L500.7 201.3 L500.2 199.3 L500.5 196.1 L501.0 195.2 L501.6 192.4 L501.7 192.7 L500.9 189.9 L501.4 187.9 L501.0 189.5 L501.2 192.6 L502.0 192.6 L501.6 195.0 L502.1 195.8 L501.9 197.7 L502.2 198.7 L501.6 201.1 L501.8 203.0 L502.0 205.3 L501.6 206.0 L501.6 208.8 L502.2 210.4 L502.1 213.1 L502.2 212.9 L502.2 214.4 L502.4 217.3 L502.4 218.4 L502.7 220.6 L503.1 222.1 L503.2 223.6 L502.5 225.3 L503.4 225.9 L503.0 228.4 L503.2 230.0 L504.0 231.8 L503.9 233.2 L504.0 234.9 L505.0 237.0 L505.4 238.9 L505.7 240.5 L506.4 242.2 L506.5 244.0 L507.6 241.1 L507.7 240.0 L508.2 240.4 L508.2 242.1 L507.5 243.8 L508.4 246.1 L508.5 248.5 L507.6 250.3 L507.8 250.2 L508.3 252.0 L508.3 254.4 L508.8 256.0 L508.7 258.4 L508.7 259.7 L509.2 259.2 L508.8 262.0 L508.4 262.4 L508.8 266.1 L508.6 267.2 L509.4 267.5 L509.3 268.6 L509.1 272.7 L509.5 273.0 L509.9 275.1 L510.1 276.4 L509.4 278.2 L510.2 278.3 L510.0 282.0 L510.0 282.5 L510.6 284.8 L511.0 285.4 L511.2 285.8 L511.1 288.4 L512.2 287.4 L512.5 284.8 L512.5 282.5 L513.5 280.5 L513.3 279.5 L513.9 278.1 L514.0 276.3 L514.1 274.2 L514.8 273.8 L514.3 270.8 L515.3 271.0 L515.1 268.4 L515.5 266.5 L515.8 266.2 L515.7 262.5 L516.6 261.3 L517.4 259.7 L517.2 258.5 L517.4 257.4 L517.8 255.9 L517.9 254.3 L518.2 252.4 L520.7 251.0 L521.2 252.6 L521.8 254.0 L522.1 253.1 L522.9 251.1 L523.8 248.5 L524.0 251.2 L525.2 252.0 L525.2 253.6 L525.1 255.9 L525.1 256.3 L525.7 258.8 L525.3 258.9 L525.8 262.0 L526.4 262.8 L526.0 265.1 L526.2 266.3 L526.2 269.4 L526.0 268.7 L525.7 271.7 L526.0 274.2 L526.3 275.0 L526.6 276.0 L526.5 278.4 L526.7 280.7 L526.3 280.8 L526.7 283.0 L526.8 284.5 L527.1 286.0 L526.9 286.3 L527.2 288.4 L528.1 292.1 L528.5 292.1 L528.6 294.5 L529.1 293.1 L530.6 290.9 L530.6 289.9 L530.9 288.8 L531.4 285.1 L532.5 285.1 L532.5 282.3 L532.9 280.9 L534.4 278.9 L534.9 277.5 L536.6 275.0 L537.4 275.0 L538.5 277.6 L538.8 278.8 L539.3 279.9 L539.4 282.7 L539.7 282.3 L540.8 283.4 L541.1 284.6 L541.3 287.2 L542.3 285.3 L542.8 284.7 L543.2 282.3 L543.7 281.5 L545.2 278.7 L546.0 276.2 L547.1 275.0 L549.5 276.3 L550.5 274.4 L551.4 274.1 L552.0 271.4 L554.4 272.6 L555.8 272.0 L556.8 268.9 L559.3 270.2 L560.1 268.1 L561.3 267.6 L561.7 265.3 L562.5 263.7 L563.7 262.9 L564.0 264.8 L564.4 267.2 L565.6 267.7 L566.3 269.8 L567.1 270.1 L567.8 272.6 L570.2 271.4 L572.0 269.5 L572.7 267.7 L574.0 267.6 L575.1 265.3 L577.5 264.1 L579.2 266.9 L580.0 267.7 L580.8 268.3 L581.5 271.6 L581.3 272.8 L582.1 272.8 L582.4 275.0 L584.8 276.3 L586.3 274.2 L587.3 273.8 L588.9 272.8 L589.7 271.4 L592.1 272.6 L593.1 270.4 L594.6 268.9 L596.0 268.3 L597.0 265.3 L599.4 264.1 L601.9 265.3 L603.2 263.7 L604.3 262.9 L605.1 264.2 L605.3 266.0 L606.6 268.8 L606.7 268.9 L609.2 270.2 L609.3 269.4 L610.3 266.3 L610.6 266.6 L611.1 263.4 L611.1 262.7 L611.6 261.2 L612.1 263.2 L613.0 265.1 L613.3 266.5 L613.3 269.6 L614.6 270.1 L614.6 272.1 L614.4 274.3 L615.3 275.0 L616.2 274.2 L616.7 272.0 L617.7 270.2 L617.8 272.0 L618.4 273.2 L619.5 275.8 L619.9 275.9 L620.1 277.5 L621.4 275.3 L622.6 273.8 L623.8 274.5 L624.5 277.8 L625.0 278.7 L626.3 276.3 L627.0 276.3 L627.3 276.5 L627.1 279.5 L628.4 280.9 L628.0 283.1 L628.4 285.2 L628.9 286.0 L629.3 288.6 L630.4 287.8 L630.1 289.4 L630.8 292.1 L631.4 294.7 L632.8 295.7 L634.2 294.6 L634.7 293.3 L635.1 295.1 L636.1 297.1 L636.3 298.1 L636.7 299.4 L637.6 300.1 L638.6 301.8 L640.6 300.6 L641.4 303.5 L640.7 302.2 L641.6 304.4 L641.2 305.8 L641.4 308.9 L642.0 311.1 L642.6 312.4 L642.5 312.8 L643.2 310.5 L643.0 309.6 L643.9 307.1 L643.9 307.1 L644.5 305.5 L645.1 305.2 L646.4 303.0 L646.6 304.5 L648.2 305.9 L648.4 307.9 L648.6 309.5 L649.8 310.4 L650.3 312.8 L652.3 314.0 L653.2 311.8 L653.7 309.7 L654.1 309.8 L654.2 307.9 L654.1 306.0 L655.1 304.1 L654.9 302.2 L656.2 302.8 L656.2 300.6 L656.9 300.0 L657.2 297.5 L657.2 296.3 L656.9 293.9 L657.5 291.3 L658.1 290.9 L658.1 288.9 L659.1 288.4 L659.5 285.2 L660.9 284.0 L661.4 281.5 L663.4 280.3 L664.1 281.2 L663.8 284.9 L664.7 284.2 L665.0 287.9 L665.1 288.2 L665.3 290.1 L665.4 290.4 L666.4 292.8 L667.0 293.3 L667.4 294.6 L667.3 297.4 L668.6 297.9 L669.2 299.8 L670.7 298.9 L671.2 296.2 L672.4 297.3 L673.1 298.6 L675.1 299.8 L677.0 301.0 L678.0 298.8 L678.7 296.7 L678.9 296.2 L679.1 294.8 L680.0 294.1 L680.9 291.3 L682.8 292.5 L684.8 293.7 L686.7 292.5 L687.4 292.5 L688.7 294.9 L690.6 293.7 L691.4 290.6 L692.6 290.1 L693.8 289.0 L694.3 287.2 L694.5 285.2 L695.7 284.9 L696.5 282.8 L696.4 284.1 L696.9 285.1 L697.3 287.0 L697.3 289.0 L697.5 291.3 L697.3 291.8 L697.4 295.0 L697.9 296.2 L698.6 295.1 L698.8 292.8 L699.0 291.9 L698.9 290.1 L698.5 289.1 L699.1 287.1 L699.4 285.4 L699.4 284.0 L700.5 283.3 L700.9 280.3 L700.6 282.9 L701.4 284.2 L700.8 286.6 L702.1 286.1 L702.0 288.3 L701.8 290.6 L702.2 291.9 L702.3 293.7 L703.3 293.3 L704.3 290.1 L705.0 289.7 L706.2 287.6 L708.2 286.4 L709.3 285.8 L710.1 284.0 L711.5 283.4 L712.1 281.5 L713.1 278.9 L712.8 278.8 L713.1 276.9 L714.0 275.5 L714.6 273.1 L714.9 272.8 L714.3 269.6 L715.0 268.6 L715.0 267.9 L715.5 265.7 L715.8 264.7 L716.4 261.7 L716.4 259.4 L716.1 258.0 L716.9 257.2 L717.9 255.9 L718.9 254.8 L720.8 256.0 L721.3 257.9 L722.4 260.4 L722.8 260.9 L724.7 262.1 L724.8 259.5 L725.9 260.1 L726.7 257.2 L728.6 256.0 L729.2 253.7 L730.6 253.6 L731.2 252.9 L732.5 251.1 L734.4 249.9 L736.4 248.7 L737.6 246.5 L738.3 245.0 L740.3 244.5 L741.4 245.6 L742.2 247.5 L742.8 250.2 L742.9 250.9 L743.1 251.5 L743.3 254.0 L743.7 255.0 L743.9 255.8 L743.4 259.5 L744.2 259.6 L746.1 260.9 L748.1 260.9 L749.6 258.9 L750.0 258.4 L750.9 255.7 L750.5 255.6 L750.9 254.2 L752.0 252.3 L753.9 251.1 L755.9 252.3 L757.8 251.1 L758.6 253.3 L759.8 253.6 L760.6 256.2 L760.4 255.5 L761.2 257.0 L760.8 258.3 L761.7 260.9 L762.5 258.1 L762.3 256.7 L762.9 255.6 L763.8 253.8 L763.7 252.3 L764.3 250.3 L764.7 250.1 L765.6 247.5 L766.5 248.1 L767.0 250.0 L766.9 252.9 L767.6 253.6 L768.1 254.3 L769.5 256.0 L770.4 255.2 L771.5 252.3 L773.4 251.1 L775.3 249.9 L777.3 248.7 L777.9 249.5 L779.2 251.1 L780.1 251.9 L780.3 253.1 L780.7 256.0 L781.2 257.2 L782.0 258.4 L783.1 259.6 L785.1 260.9 L785.8 261.6 L785.8 265.2 L786.5 265.0 L786.0 266.5 L787.1 269.3 L787.0 270.6 L787.2 272.4 L787.9 275.2 L789.0 275.5 L790.2 276.6 L790.6 279.5 L790.9 280.3 L791.7 281.0 L791.1 283.7 L792.5 286.6 L792.4 287.6 L792.6 284.7 L792.7 285.5 L793.4 282.2 L793.9 281.0 L794.0 280.5 L793.8 277.9 L794.0 277.0 L794.9 275.4 L795.4 273.3 L795.8 271.8 L796.1 269.6 L796.9 269.7 L797.7 266.9 L799.2 264.0 L799.7 263.3 L800.9 265.1 L801.6 266.9 L803.6 268.2 L804.2 266.5 L805.5 265.7 L806.6 266.9 L807.3 268.3 L807.5 270.6 L808.4 271.6 L808.4 272.7 L808.5 274.1 L809.4 276.7 L810.2 278.6 L811.4 280.3 L812.0 282.3 L813.3 284.0 L813.5 281.7 L813.6 281.7 L814.9 278.6 L814.6 277.4 L815.3 275.5 L817.2 274.2 L817.8 274.4 L819.2 271.8 L821.1 273.0 L821.5 270.2 L823.1 269.4 L824.4 267.4 L825.0 265.7 L827.0 264.5 L827.7 265.1 L828.9 266.9 L829.4 266.6 L830.8 264.5 L832.8 263.8 L834.7 264.5 L835.9 264.4 L836.7 266.9 L838.6 268.2 L840.6 269.4 L842.5 270.6 L844.5 269.4 L845.5 270.0 L846.4 273.0 L848.4 274.2 L849.5 274.5 L850.3 276.7 L852.3 277.9 L853.2 280.1 L854.2 280.3 L855.3 281.5 L856.2 284.0 L856.6 282.7 L858.1 280.3 L858.9 281.4 L860.1 284.0 L860.8 285.2 L862.0 286.4 L862.7 288.1 L864.0 288.9 L864.3 291.6 L864.5 291.3 L865.4 293.7 L865.4 294.5 L865.9 298.5 L866.2 299.2 L867.0 297.5 L867.0 297.3 L866.8 293.7 L866.9 292.8 L867.4 291.1 L867.7 289.0 L868.8 287.0 L869.1 286.1 L869.8 284.3 L870.7 282.0 L872.3 281.0 L873.0 282.6 L872.9 284.9 L873.9 286.1 L874.7 285.0 L875.6 282.0 L877.2 281.0 L878.8 280.0 L880.1 281.1 L880.4 283.0 L881.1 285.3 L882.0 286.1 L883.7 288.1 L885.3 290.1 L886.9 291.1 L888.5 293.2 L890.2 295.2 L891.8 297.2 L892.3 297.9 L893.0 301.3 L893.0 299.4 L893.4 296.8 L893.7 295.5 L893.3 294.6 L893.6 293.7 L893.8 291.1 L893.7 288.4 L893.9 286.7 L894.6 287.5 L893.8 285.3 L893.9 282.5 L894.5 281.3 L894.4 278.8 L894.7 278.3 L894.6 276.9 L894.6 276.3 L894.6 274.2 L895.1 272.2 L895.0 269.6 L894.8 269.3 L895.6 267.1 L895.0 265.9 L895.4 264.8 L895.6 265.8 L895.6 267.7 L895.6 269.1 L896.2 271.3 L896.2 272.9 L896.6 273.3 L897.2 275.4 L896.4 278.7 L897.1 279.0 L897.0 277.9 L897.7 274.7 L897.7 275.4 L898.0 273.0 L897.7 271.2 L898.0 269.9 L897.5 268.9 L897.8 265.5 L897.9 264.8 L897.9 266.5 L898.7 268.8 L898.5 269.9 L898.7 270.9 L899.9 272.9 L900.2 271.4 L901.1 268.8 L901.3 268.2 L902.3 265.8 L903.1 268.4 L903.5 268.8 L903.5 269.7 L904.1 272.1 L904.0 273.9 L904.8 274.9 L905.3 278.0 L906.0 279.0 L906.6 277.3 L906.5 276.2 L906.9 273.8 L907.2 272.9 L907.5 270.0 L908.4 269.8 L909.6 270.9 L910.9 268.8 L912.5 267.8 L914.1 266.8 L913.8 269.3 L914.8 268.9 L914.6 271.3 L915.0 273.5 L914.9 274.9 L915.5 276.0 L915.8 276.8 L915.8 279.2 L916.2 280.8 L916.1 283.0 L916.4 281.1 L916.8 279.3 L916.3 278.9 L917.3 277.2 L916.9 274.9 L917.4 272.7 L918.6 271.9 L920.2 270.9 L921.8 271.9 L923.4 269.8 L924.8 269.5 L925.1 266.8 L926.2 264.2 L926.7 263.8 L927.2 263.4 L928.3 260.7 L928.9 260.0 L929.9 257.7 L930.5 256.4 L931.1 253.6 L931.1 251.8 L932.2 250.7 L932.4 248.5 L934.0 247.5 L935.6 246.5 L937.2 247.5 L937.5 245.4 L938.8 244.5 L939.2 241.8 L940.1 241.4" fill="none" stroke="#000" stroke-opacity="0.5" stroke-width="3.9" stroke-linejoin="round" stroke-linecap="round" transform="translate(3.4 3.4)" filter="url(#sh)"/>
<path d="M60.4 370.6 L62.0 370.8 L63.5 372.5 L64.9 370.8 L66.0 369.9 L67.3 371.4 L69.6 372.3 L71.8 371.9 L73.3 374.2 L74.2 374.8 L75.7 378.1 L76.9 377.9 L78.7 380.1 L80.6 380.3 L83.0 381.5 L83.8 380.1 L85.4 377.9 L87.7 378.0 L89.1 377.4 L91.2 378.3 L92.7 379.1 L93.5 380.6 L95.3 381.9 L96.4 382.3 L97.7 382.0 L100.0 382.8 L101.8 382.6 L103.7 380.3 L105.9 380.3 L107.3 379.1 L109.6 379.1 L111.0 377.9 L113.2 377.4 L114.6 377.4 L116.3 376.3 L117.1 375.5 L117.5 374.7 L118.8 371.8 L119.7 372.0 L121.2 374.2 L121.5 374.1 L121.8 371.7 L122.3 369.9 L122.9 368.0 L123.2 366.9 L123.9 365.6 L124.3 364.2 L124.1 362.1 L125.0 364.9 L124.5 366.2 L125.7 368.6 L125.6 369.4 L126.9 369.3 L128.0 366.9 L129.5 366.7 L131.7 365.2 L133.6 365.4 L135.3 363.8 L135.1 361.7 L136.4 361.8 L136.5 358.1 L136.1 357.5 L137.1 355.7 L137.0 354.8 L137.0 354.3 L137.5 352.0 L138.3 350.8 L139.0 348.7 L140.3 348.1 L141.2 345.5 L141.4 343.8 L141.4 341.5 L141.7 340.4 L142.6 337.5 L143.1 336.5 L143.0 335.2 L144.0 332.0 L144.4 331.1 L144.0 331.1 L144.4 328.3 L144.6 326.8 L144.9 325.7 L145.1 323.9 L145.1 323.4 L145.6 320.5 L145.3 318.4 L145.7 319.0 L145.3 316.3 L146.0 314.6 L146.2 312.7 L146.4 310.0 L145.9 310.0 L146.4 308.3 L146.4 306.8 L146.7 304.7 L148.2 307.1 L149.1 308.3 L149.1 305.3 L150.6 305.4 L150.5 302.5 L150.9 301.8 L151.6 299.8 L151.7 297.9 L152.4 296.4 L152.5 294.7 L152.4 294.5 L153.6 292.4 L153.3 290.1 L153.7 290.0 L154.3 286.7 L154.2 286.6 L154.9 284.1 L155.3 284.0 L155.4 282.5 L156.1 280.0 L156.5 278.0 L156.5 278.0 L156.4 274.6 L156.7 273.9 L157.6 273.2 L157.2 269.9 L157.7 269.2 L158.0 268.6 L157.9 267.1 L158.0 263.6 L158.2 264.0 L158.5 261.2 L158.7 259.9 L158.6 259.8 L159.1 257.1 L159.8 254.2 L160.0 255.1 L160.2 252.3 L159.5 252.2 L160.4 250.2 L160.2 248.4 L160.2 245.8 L160.5 244.9 L160.4 242.6 L160.9 242.1 L161.0 241.2 L161.8 238.8 L162.1 241.6 L162.5 243.4 L162.3 245.0 L162.6 244.2 L162.2 246.4 L162.6 249.0 L162.8 247.9 L163.5 245.7 L163.0 244.7 L163.4 242.9 L163.9 243.8 L163.8 246.0 L163.2 247.2 L164.0 249.4 L164.0 249.9 L164.1 253.6 L163.2 254.9 L164.3 256.0 L163.7 256.0 L164.0 258.2 L164.0 260.2 L163.5 262.8 L163.7 262.4 L164.2 265.2 L164.2 266.2 L165.2 269.2 L165.8 269.0 L165.6 264.8 L165.6 263.9 L166.2 262.3 L166.2 261.1 L166.2 259.8 L166.3 257.1 L166.6 255.3 L166.5 255.4 L166.4 252.1 L167.0 251.3 L166.9 250.9 L167.3 249.4 L167.2 246.9 L167.3 245.2 L167.8 243.8 L167.9 242.0 L167.6 240.5 L168.2 239.1 L168.1 236.3 L168.8 235.7 L168.4 235.5 L168.7 232.7 L169.2 232.2 L169.0 228.7 L169.6 226.6 L169.9 226.4 L169.9 225.1 L169.9 222.6 L170.1 221.7 L170.3 218.4 L170.0 216.6 L170.1 217.3 L170.3 213.8 L170.6 214.5 L171.5 210.6 L171.3 210.4 L172.0 207.7 L172.2 207.7 L172.2 206.8 L171.9 204.8 L172.7 202.3 L173.5 201.0 L174.3 198.3 L174.1 197.2 L175.2 195.6 L174.7 192.0 L175.4 191.7 L174.8 189.1 L175.4 188.1 L175.6 185.8 L175.5 185.6 L175.6 182.9 L175.8 181.2 L176.0 180.0 L176.2 177.2 L176.3 178.2 L176.2 175.9 L177.1 174.2 L177.0 172.1 L177.1 170.9 L177.4 168.7 L177.0 168.1 L177.8 164.2 L177.7 164.8 L177.8 161.9 L178.2 160.2 L177.8 157.8 L178.3 156.2 L178.0 154.9 L178.4 153.8 L178.9 152.8 L178.7 150.2 L178.9 149.0 L178.3 148.0 L178.0 145.4 L178.6 144.7 L179.8 142.7 L179.8 141.1 L179.8 138.7 L180.3 137.6 L180.6 135.6 L180.3 135.0 L180.2 133.5 L180.6 131.8 L180.4 131.1 L180.6 128.4 L180.2 127.8 L180.9 125.7 L180.4 123.4 L180.2 121.7 L180.8 119.4 L181.1 119.0 L180.3 117.9 L180.6 115.3 L180.4 112.8 L180.9 111.2 L181.1 111.4 L181.0 108.1 L180.5 106.6 L180.6 105.5 L180.2 107.9 L181.1 107.8 L180.6 110.0 L181.1 112.5 L180.7 112.6 L181.0 115.5 L181.0 117.3 L181.3 118.1 L181.3 121.8 L181.2 122.3 L182.0 123.2 L182.0 125.4 L182.3 126.0 L181.3 130.0 L181.6 130.5 L181.7 133.4 L182.4 134.5 L182.6 134.8 L183.0 137.4 L182.9 138.6 L183.0 139.5 L182.9 142.9 L182.1 143.3 L182.5 144.7 L182.5 146.3 L183.1 148.6 L182.8 149.7 L183.6 151.6 L183.7 152.8 L184.3 150.1 L183.6 149.7 L183.7 148.7 L184.3 145.7 L184.4 143.5 L184.1 142.6 L183.9 140.6 L184.1 139.3 L184.1 136.6 L185.0 134.1 L185.1 133.5 L185.0 132.6 L184.7 130.8 L184.7 128.5 L185.2 126.3 L185.9 125.4 L185.4 128.2 L185.6 128.8 L185.6 131.2 L185.7 131.7 L186.0 134.0 L185.7 135.6 L186.3 133.6 L185.9 131.4 L186.0 129.9 L186.7 129.5 L186.9 128.6 L186.3 125.4 L186.9 124.4 L186.8 123.9 L186.5 121.4 L187.5 123.4 L187.3 122.0 L187.4 119.9 L188.0 118.6 L187.7 116.1 L188.1 115.3 L188.7 113.7 L188.4 116.0 L189.5 117.6 L189.1 119.5 L189.5 120.0 L189.6 121.4 L190.2 123.3 L189.5 124.9 L189.7 126.9 L190.1 127.7 L190.2 127.6 L190.0 130.5 L190.2 132.6 L190.3 133.9 L190.6 135.6 L190.7 136.2 L190.7 137.3 L190.7 140.5 L191.4 141.8 L190.5 144.3 L191.2 145.5 L190.9 145.0 L191.2 147.7 L190.8 148.7 L191.9 151.2 L191.9 152.3 L191.2 155.0 L191.8 157.2 L191.8 157.9 L193.0 159.9 L193.3 162.8 L193.0 164.0 L193.8 165.8 L193.3 167.7 L193.5 169.1 L193.6 170.1 L193.4 170.5 L193.8 171.9 L194.4 173.7 L194.6 176.1 L194.7 178.3 L194.9 179.1 L194.7 180.4 L194.7 183.3 L195.3 183.3 L194.7 186.4 L194.9 187.0 L194.6 189.2 L194.7 189.2 L195.0 192.2 L194.7 194.5 L194.9 195.1 L195.0 195.9 L195.1 198.0 L195.1 198.5 L195.6 200.4 L195.2 201.6 L195.8 204.3 L195.8 205.7 L195.5 208.0 L196.0 208.6 L196.8 209.1 L195.9 211.2 L196.1 213.4 L196.4 215.3 L196.7 216.5 L196.4 217.1 L196.8 220.5 L197.2 222.4 L197.2 224.5 L197.4 224.3 L197.9 226.7 L198.2 229.2 L197.7 229.5 L198.9 232.0 L198.0 233.4 L198.7 234.8 L198.3 235.1 L198.3 237.1 L199.1 238.5 L198.7 242.5 L199.0 244.3 L199.6 245.5 L198.7 247.5 L199.3 248.0 L199.5 245.8 L199.0 246.1 L199.9 242.7 L199.5 240.6 L199.9 239.7 L199.4 239.7 L200.1 237.7 L199.9 236.4 L199.8 235.0 L199.7 232.0 L200.1 230.7 L200.2 230.0 L199.9 227.0 L200.5 226.8 L200.3 225.2 L200.1 223.1 L200.1 222.2 L201.0 220.0 L200.3 219.0 L201.2 216.3 L201.4 215.9 L201.0 215.0 L201.1 212.5 L201.6 215.2 L201.5 215.2 L201.7 216.1 L201.6 220.2 L202.3 220.6 L202.1 222.3 L202.9 222.4 L202.4 224.4 L203.1 226.7 L203.4 227.3 L202.7 230.0 L203.9 230.6 L203.5 232.2 L203.8 234.3 L203.9 236.4 L203.3 237.8 L203.2 238.4 L203.8 240.9 L203.4 243.5 L204.5 242.9 L204.5 245.1 L204.1 246.5 L204.6 248.5 L204.4 251.0 L204.8 253.0 L205.3 255.1 L205.2 255.6 L204.9 257.6 L205.7 260.4 L205.8 261.1 L205.8 263.6 L206.4 264.5 L206.3 266.6 L207.1 267.2 L207.4 269.2 L207.8 266.5 L208.0 266.9 L208.6 265.1 L208.8 263.2 L209.1 263.9 L209.5 267.6 L209.6 267.5 L210.4 269.2 L210.2 270.0 L211.0 273.5 L211.4 274.9 L211.5 275.7 L211.1 277.0 L211.8 279.7 L211.5 280.0 L211.7 282.8 L212.0 283.9 L212.8 286.1 L213.2 285.7 L212.5 286.9 L213.0 290.0 L213.7 291.0 L213.9 292.5 L214.4 292.7 L214.4 294.9 L215.1 296.6 L214.8 299.3 L215.2 299.0 L215.2 301.4 L216.3 302.2 L216.3 304.7 L217.2 306.9 L217.4 309.3 L216.9 309.2 L217.6 310.6 L218.0 312.9 L218.3 314.4 L218.7 315.6 L218.4 316.9 L218.8 320.2 L218.6 320.7 L219.3 318.9 L220.5 318.3 L220.2 320.6 L221.1 320.3 L220.9 322.9 L221.2 323.1 L221.7 326.6 L222.3 328.7 L221.7 330.2 L222.5 330.4 L222.4 327.7 L223.1 326.6 L223.8 323.7 L224.2 323.1 L224.5 320.3 L225.5 319.0 L225.4 317.8 L226.1 315.0 L226.6 314.6 L227.2 316.6 L227.8 319.0 L227.4 318.8 L228.6 321.8 L229.0 322.7 L229.1 324.3 L230.0 322.7 L231.5 320.7 L231.1 318.2 L232.3 317.9 L231.9 317.0 L232.6 314.7 L232.4 313.5 L232.5 310.8 L232.3 308.5 L233.3 308.4 L232.8 306.4 L233.1 304.2 L233.2 303.9 L233.0 302.7 L233.6 299.8 L233.9 300.8 L234.6 302.6 L235.0 305.3 L234.3 306.2 L235.2 307.6 L235.2 308.9 L236.2 311.0 L236.0 312.0 L236.6 309.2 L236.9 308.4 L237.8 308.2 L237.3 305.9 L237.7 305.0 L238.5 302.2 L239.3 300.2 L239.2 298.3 L240.4 298.4 L240.3 294.9 L240.9 293.7 L241.7 294.3 L243.3 296.2 L244.2 293.9 L243.7 291.8 L243.9 290.6 L245.0 290.0 L245.2 289.3 L244.9 287.7 L245.8 285.2 L246.8 283.1 L246.5 281.1 L247.0 280.8 L247.2 279.5 L248.2 277.9 L249.0 275.6 L249.3 273.9 L249.7 272.4 L249.6 272.3 L249.2 269.3 L249.7 269.5 L250.7 266.4 L250.6 265.7 L250.4 265.2 L251.2 263.9 L251.0 260.7 L252.3 259.2 L251.6 257.3 L251.9 255.3 L252.6 254.8 L253.4 252.5 L253.0 249.9 L254.2 250.5 L254.0 247.5 L253.8 250.4 L254.7 250.1 L254.6 252.1 L253.9 253.1 L254.8 254.7 L254.7 257.5 L254.8 258.2 L254.9 259.6 L254.6 262.3 L255.5 263.1 L254.7 265.4 L255.6 267.3 L255.0 266.6 L254.9 268.2 L255.5 270.6 L255.6 273.6 L255.4 274.9 L256.5 274.1 L256.8 277.9 L256.5 279.2 L256.2 281.1 L256.8 282.1 L257.1 282.6 L257.2 285.2 L257.4 283.2 L257.4 281.7 L257.8 280.2 L258.4 280.3 L258.5 278.5 L258.8 275.3 L258.0 273.7 L258.9 272.8 L259.0 270.8 L259.5 269.1 L259.1 268.2 L259.4 269.7 L260.2 271.5 L260.2 274.4 L260.6 274.5 L260.7 275.1 L261.1 277.9 L261.7 277.3 L262.1 273.6 L262.5 273.0 L262.0 271.4 L263.0 270.4 L263.3 268.6 L263.1 267.8 L263.5 265.7 L263.9 263.7 L264.0 262.5 L264.9 261.7 L264.4 260.0 L265.0 257.5 L265.1 257.1 L265.6 254.1 L265.6 253.2 L266.5 252.3 L267.3 254.1 L267.5 255.8 L268.0 258.4 L267.9 260.3 L268.4 260.9 L268.9 259.7 L270.2 258.7 L271.3 256.0 L272.1 257.4 L271.6 258.4 L272.4 261.4 L272.1 260.8 L272.4 263.0 L272.9 265.8 L273.5 265.8 L273.8 267.9 L274.2 269.4 L276.0 268.5 L277.4 266.9 L277.8 265.1 L279.2 265.0 L279.8 262.1 L282.3 260.9 L282.5 261.2 L283.4 264.6 L282.6 264.2 L283.4 266.9 L284.2 269.6 L284.0 269.5 L284.8 271.7 L284.7 273.0 L284.9 273.7 L285.5 274.9 L286.1 276.3 L286.0 279.2 L285.9 279.5 L286.9 282.1 L286.6 283.8 L287.1 285.2 L287.9 288.1 L288.0 288.3 L289.4 289.2 L289.6 291.3 L290.1 292.0 L290.4 295.0 L291.5 297.1 L291.8 299.1 L292.0 299.8 L291.8 297.5 L292.4 296.6 L293.3 294.4 L293.6 292.9 L293.1 293.4 L293.7 291.8 L293.8 288.3 L294.4 287.6 L295.1 284.8 L296.1 284.3 L295.8 284.0 L296.9 281.5 L299.3 280.3 L300.8 280.7 L302.5 281.5 L302.5 279.0 L303.2 277.6 L302.9 276.2 L303.5 274.3 L303.5 273.6 L303.8 272.4 L304.5 270.7 L304.9 267.7 L304.9 266.9 L305.4 264.9 L306.0 263.8 L305.9 261.7 L307.3 260.9 L307.3 258.4 L307.7 259.9 L308.3 260.8 L307.8 263.5 L308.9 265.4 L309.1 265.6 L308.4 267.5 L308.9 269.7 L309.3 270.6 L311.7 270.6 L312.6 272.9 L313.2 272.7 L313.9 275.5 L314.5 278.0 L315.5 278.6 L315.7 279.9 L316.4 281.5 L317.2 280.3 L316.9 277.8 L317.9 277.9 L318.7 275.2 L318.8 274.2 L319.4 273.8 L320.4 272.6 L320.4 270.4 L321.2 268.2 L322.6 268.6 L323.7 271.8 L324.7 271.3 L326.1 269.4 L326.7 271.0 L327.3 272.1 L327.4 274.7 L328.1 275.1 L328.5 277.9 L329.4 278.9 L329.6 280.0 L330.2 281.6 L331.0 284.0 L331.1 285.7 L332.2 285.8 L332.8 287.7 L333.4 290.1 L333.6 287.6 L335.1 287.1 L335.2 286.5 L335.8 284.0 L335.8 285.2 L336.6 286.3 L336.9 289.6 L337.7 291.1 L338.3 291.3 L339.2 292.9 L340.7 294.9 L341.2 297.9 L342.3 298.4 L343.1 299.8 L343.6 300.6 L345.1 304.4 L345.6 304.7 L347.1 304.1 L347.9 301.1 L348.7 301.0 L349.0 303.2 L350.5 303.9 L350.8 305.1 L351.2 307.1 L352.1 307.7 L352.6 309.5 L353.8 311.3 L354.1 313.2 L354.7 315.4 L355.2 316.8 L355.6 318.6 L356.5 319.3 L357.3 317.9 L357.5 316.0 L358.9 314.0 L359.7 312.6 L360.2 312.0 L361.9 310.2 L362.6 308.3 L363.5 310.8 L363.3 311.0 L364.7 313.0 L365.0 314.4 L365.6 314.4 L367.4 311.0 L367.8 311.4 L368.7 309.5 L369.2 311.4 L370.7 312.1 L371.0 313.5 L372.3 314.4 L373.4 314.6 L373.7 317.9 L375.0 318.1 L375.5 316.3 L376.2 316.7 L377.9 319.9 L379.0 321.9 L380.4 322.3 L382.8 323.6 L385.2 324.8 L387.7 323.6 L389.0 325.1 L389.0 327.1 L390.1 328.4 L392.5 327.2 L392.5 329.3 L393.7 329.6 L393.5 330.8 L394.5 333.3 L394.9 331.7 L395.2 331.4 L396.2 328.4 L396.5 327.8 L397.1 326.4 L397.5 324.5 L398.1 321.8 L398.6 321.1 L399.3 320.3 L400.2 317.1 L401.1 316.3 L401.8 313.9 L403.0 313.8 L404.3 315.8 L405.4 317.5 L406.4 319.0 L407.9 319.9 L408.6 319.8 L410.3 322.3 L412.7 321.1 L413.6 319.5 L415.2 318.7 L415.4 320.6 L416.3 322.8 L416.9 324.3 L417.0 325.6 L417.6 327.2 L417.5 328.2 L418.5 331.1 L419.4 330.6 L419.3 333.3 L420.7 331.7 L421.7 329.6 L422.5 328.3 L424.2 327.2 L425.0 327.4 L426.6 324.8 L428.4 323.2 L429.1 322.3 L430.3 322.5 L431.5 324.8 L432.4 326.5 L433.9 328.4 L435.0 327.8 L436.4 324.8 L437.5 325.2 L438.8 328.4 L441.2 327.2 L442.7 327.6 L443.7 330.9 L444.9 330.3 L445.5 326.3 L446.1 326.0 L447.3 327.3 L448.5 329.6 L451.0 328.4 L452.0 329.7 L453.4 332.1 L455.8 332.1 L458.3 330.9 L460.7 330.9 L463.1 329.6 L464.1 327.0 L465.3 325.2 L465.6 324.8 L467.3 321.7 L468.0 321.1 L468.7 318.4 L470.4 317.5 L472.9 316.3 L474.1 315.7 L475.3 313.8 L476.1 312.9 L476.5 310.9 L477.7 308.9 L478.0 307.8 L477.7 306.9 L478.7 302.8 L478.7 303.5 L479.1 301.2 L479.3 299.0 L479.7 297.1 L479.6 296.1 L480.8 293.7 L480.9 291.9 L481.3 291.0 L481.6 288.7 L482.5 288.2 L482.7 287.5 L483.0 283.8 L483.6 283.0 L484.3 283.0 L485.6 285.5 L486.2 284.2 L486.2 281.8 L486.7 279.9 L487.6 279.5 L489.4 277.5 L489.5 275.9 L490.2 275.3 L490.4 272.2 L490.8 271.0 L491.4 268.2 L491.3 268.7 L491.6 267.1 L492.2 265.0 L492.1 262.7 L492.8 261.2 L493.2 260.9 L493.2 259.0 L493.8 256.2 L493.7 255.5 L494.0 253.8 L494.3 251.3 L494.7 250.4 L495.1 249.1 L494.7 248.2 L495.5 246.4 L495.9 244.2 L495.8 240.9 L495.7 240.2 L495.5 239.6 L496.7 237.1 L496.8 234.5 L496.6 234.5 L496.6 230.7 L497.2 230.0 L497.4 229.4 L497.8 226.4 L497.9 226.5 L499.0 222.4 L498.7 221.7 L499.1 220.6 L498.9 220.2 L499.7 216.0 L499.0 214.8 L499.1 215.0 L499.3 213.2 L499.6 210.4 L499.4 208.1 L499.9 207.0 L500.0 204.8 L500.1 203.3 L500.7 201.1 L500.7 201.3 L500.2 199.3 L500.5 196.1 L501.0 195.2 L501.6 192.4 L501.7 192.7 L500.9 189.9 L501.4 187.9 L501.0 189.5 L501.2 192.6 L502.0 192.6 L501.6 195.0 L502.1 195.8 L501.9 197.7 L502.2 198.7 L501.6 201.1 L501.8 203.0 L502.0 205.3 L501.6 206.0 L501.6 208.8 L502.2 210.4 L502.1 213.1 L502.2 212.9 L502.2 214.4 L502.4 217.3 L502.4 218.4 L502.7 220.6 L503.1 222.1 L503.2 223.6 L502.5 225.3 L503.4 225.9 L503.0 228.4 L503.2 230.0 L504.0 231.8 L503.9 233.2 L504.0 234.9 L505.0 237.0 L505.4 238.9 L505.7 240.5 L506.4 242.2 L506.5 244.0 L507.6 241.1 L507.7 240.0 L508.2 240.4 L508.2 242.1 L507.5 243.8 L508.4 246.1 L508.5 248.5 L507.6 250.3 L507.8 250.2 L508.3 252.0 L508.3 254.4 L508.8 256.0 L508.7 258.4 L508.7 259.7 L509.2 259.2 L508.8 262.0 L508.4 262.4 L508.8 266.1 L508.6 267.2 L509.4 267.5 L509.3 268.6 L509.1 272.7 L509.5 273.0 L509.9 275.1 L510.1 276.4 L509.4 278.2 L510.2 278.3 L510.0 282.0 L510.0 282.5 L510.6 284.8 L511.0 285.4 L511.2 285.8 L511.1 288.4 L512.2 287.4 L512.5 284.8 L512.5 282.5 L513.5 280.5 L513.3 279.5 L513.9 278.1 L514.0 276.3 L514.1 274.2 L514.8 273.8 L514.3 270.8 L515.3 271.0 L515.1 268.4 L515.5 266.5 L515.8 266.2 L515.7 262.5 L516.6 261.3 L517.4 259.7 L517.2 258.5 L517.4 257.4 L517.8 255.9 L517.9 254.3 L518.2 252.4 L520.7 251.0 L521.2 252.6 L521.8 254.0 L522.1 253.1 L522.9 251.1 L523.8 248.5 L524.0 251.2 L525.2 252.0 L525.2 253.6 L525.1 255.9 L525.1 256.3 L525.7 258.8 L525.3 258.9 L525.8 262.0 L526.4 262.8 L526.0 265.1 L526.2 266.3 L526.2 269.4 L526.0 268.7 L525.7 271.7 L526.0 274.2 L526.3 275.0 L526.6 276.0 L526.5 278.4 L526.7 280.7 L526.3 280.8 L526.7 283.0 L526.8 284.5 L527.1 286.0 L526.9 286.3 L527.2 288.4 L528.1 292.1 L528.5 292.1 L528.6 294.5 L529.1 293.1 L530.6 290.9 L530.6 289.9 L530.9 288.8 L531.4 285.1 L532.5 285.1 L532.5 282.3 L532.9 280.9 L534.4 278.9 L534.9 277.5 L536.6 275.0 L537.4 275.0 L538.5 277.6 L538.8 278.8 L539.3 279.9 L539.4 282.7 L539.7 282.3 L540.8 283.4 L541.1 284.6 L541.3 287.2 L542.3 285.3 L542.8 284.7 L543.2 282.3 L543.7 281.5 L545.2 278.7 L546.0 276.2 L547.1 275.0 L549.5 276.3 L550.5 274.4 L551.4 274.1 L552.0 271.4 L554.4 272.6 L555.8 272.0 L556.8 268.9 L559.3 270.2 L560.1 268.1 L561.3 267.6 L561.7 265.3 L562.5 263.7 L563.7 262.9 L564.0 264.8 L564.4 267.2 L565.6 267.7 L566.3 269.8 L567.1 270.1 L567.8 272.6 L570.2 271.4 L572.0 269.5 L572.7 267.7 L574.0 267.6 L575.1 265.3 L577.5 264.1 L579.2 266.9 L580.0 267.7 L580.8 268.3 L581.5 271.6 L581.3 272.8 L582.1 272.8 L582.4 275.0 L584.8 276.3 L586.3 274.2 L587.3 273.8 L588.9 272.8 L589.7 271.4 L592.1 272.6 L593.1 270.4 L594.6 268.9 L596.0 268.3 L597.0 265.3 L599.4 264.1 L601.9 265.3 L603.2 263.7 L604.3 262.9 L605.1 264.2 L605.3 266.0 L606.6 268.8 L606.7 268.9 L609.2 270.2 L609.3 269.4 L610.3 266.3 L610.6 266.6 L611.1 263.4 L611.1 262.7 L611.6 261.2 L612.1 263.2 L613.0 265.1 L613.3 266.5 L613.3 269.6 L614.6 270.1 L614.6 272.1 L614.4 274.3 L615.3 275.0 L616.2 274.2 L616.7 272.0 L617.7 270.2 L617.8 272.0 L618.4 273.2 L619.5 275.8 L619.9 275.9 L620.1 277.5 L621.4 275.3 L622.6 273.8 L623.8 274.5 L624.5 277.8 L625.0 278.7 L626.3 276.3 L627.0 276.3 L627.3 276.5 L627.1 279.5 L628.4 280.9 L628.0 283.1 L628.4 285.2 L628.9 286.0 L629.3 288.6 L630.4 287.8 L630.1 289.4 L630.8 292.1 L631.4 294.7 L632.8 295.7 L634.2 294.6 L634.7 293.3 L635.1 295.1 L636.1 297.1 L636.3 298.1 L636.7 299.4 L637.6 300.1 L638.6 301.8 L640.6 300.6 L641.4 303.5 L640.7 302.2 L641.6 304.4 L641.2 305.8 L641.4 308.9 L642.0 311.1 L642.6 312.4 L642.5 312.8 L643.2 310.5 L643.0 309.6 L643.9 307.1 L643.9 307.1 L644.5 305.5 L645.1 305.2 L646.4 303.0 L646.6 304.5 L648.2 305.9 L648.4 307.9 L648.6 309.5 L649.8 310.4 L650.3 312.8 L652.3 314.0 L653.2 311.8 L653.7 309.7 L654.1 309.8 L654.2 307.9 L654.1 306.0 L655.1 304.1 L654.9 302.2 L656.2 302.8 L656.2 300.6 L656.9 300.0 L657.2 297.5 L657.2 296.3 L656.9 293.9 L657.5 291.3 L658.1 290.9 L658.1 288.9 L659.1 288.4 L659.5 285.2 L660.9 284.0 L661.4 281.5 L663.4 280.3 L664.1 281.2 L663.8 284.9 L664.7 284.2 L665.0 287.9 L665.1 288.2 L665.3 290.1 L665.4 290.4 L666.4 292.8 L667.0 293.3 L667.4 294.6 L667.3 297.4 L668.6 297.9 L669.2 299.8 L670.7 298.9 L671.2 296.2 L672.4 297.3 L673.1 298.6 L675.1 299.8 L677.0 301.0 L678.0 298.8 L678.7 296.7 L678.9 296.2 L679.1 294.8 L680.0 294.1 L680.9 291.3 L682.8 292.5 L684.8 293.7 L686.7 292.5 L687.4 292.5 L688.7 294.9 L690.6 293.7 L691.4 290.6 L692.6 290.1 L693.8 289.0 L694.3 287.2 L694.5 285.2 L695.7 284.9 L696.5 282.8 L696.4 284.1 L696.9 285.1 L697.3 287.0 L697.3 289.0 L697.5 291.3 L697.3 291.8 L697.4 295.0 L697.9 296.2 L698.6 295.1 L698.8 292.8 L699.0 291.9 L698.9 290.1 L698.5 289.1 L699.1 287.1 L699.4 285.4 L699.4 284.0 L700.5 283.3 L700.9 280.3 L700.6 282.9 L701.4 284.2 L700.8 286.6 L702.1 286.1 L702.0 288.3 L701.8 290.6 L702.2 291.9 L702.3 293.7 L703.3 293.3 L704.3 290.1 L705.0 289.7 L706.2 287.6 L708.2 286.4 L709.3 285.8 L710.1 284.0 L711.5 283.4 L712.1 281.5 L713.1 278.9 L712.8 278.8 L713.1 276.9 L714.0 275.5 L714.6 273.1 L714.9 272.8 L714.3 269.6 L715.0 268.6 L715.0 267.9 L715.5 265.7 L715.8 264.7 L716.4 261.7 L716.4 259.4 L716.1 258.0 L716.9 257.2 L717.9 255.9 L718.9 254.8 L720.8 256.0 L721.3 257.9 L722.4 260.4 L722.8 260.9 L724.7 262.1 L724.8 259.5 L725.9 260.1 L726.7 257.2 L728.6 256.0 L729.2 253.7 L730.6 253.6 L731.2 252.9 L732.5 251.1 L734.4 249.9 L736.4 248.7 L737.6 246.5 L738.3 245.0 L740.3 244.5 L741.4 245.6 L742.2 247.5 L742.8 250.2 L742.9 250.9 L743.1 251.5 L743.3 254.0 L743.7 255.0 L743.9 255.8 L743.4 259.5 L744.2 259.6 L746.1 260.9 L748.1 260.9 L749.6 258.9 L750.0 258.4 L750.9 255.7 L750.5 255.6 L750.9 254.2 L752.0 252.3 L753.9 251.1 L755.9 252.3 L757.8 251.1 L758.6 253.3 L759.8 253.6 L760.6 256.2 L760.4 255.5 L761.2 257.0 L760.8 258.3 L761.7 260.9 L762.5 258.1 L762.3 256.7 L762.9 255.6 L763.8 253.8 L763.7 252.3 L764.3 250.3 L764.7 250.1 L765.6 247.5 L766.5 248.1 L767.0 250.0 L766.9 252.9 L767.6 253.6 L768.1 254.3 L769.5 256.0 L770.4 255.2 L771.5 252.3 L773.4 251.1 L775.3 249.9 L777.3 248.7 L777.9 249.5 L779.2 251.1 L780.1 251.9 L780.3 253.1 L780.7 256.0 L781.2 257.2 L782.0 258.4 L783.1 259.6 L785.1 260.9 L785.8 261.6 L785.8 265.2 L786.5 265.0 L786.0 266.5 L787.1 269.3 L787.0 270.6 L787.2 272.4 L787.9 275.2 L789.0 275.5 L790.2 276.6 L790.6 279.5 L790.9 280.3 L791.7 281.0 L791.1 283.7 L792.5 286.6 L792.4 287.6 L792.6 284.7 L792.7 285.5 L793.4 282.2 L793.9 281.0 L794.0 280.5 L793.8 277.9 L794.0 277.0 L794.9 275.4 L795.4 273.3 L795.8 271.8 L796.1 269.6 L796.9 269.7 L797.7 266.9 L799.2 264.0 L799.7 263.3 L800.9 265.1 L801.6 266.9 L803.6 268.2 L804.2 266.5 L805.5 265.7 L806.6 266.9 L807.3 268.3 L807.5 270.6 L808.4 271.6 L808.4 272.7 L808.5 274.1 L809.4 276.7 L810.2 278.6 L811.4 280.3 L812.0 282.3 L813.3 284.0 L813.5 281.7 L813.6 281.7 L814.9 278.6 L814.6 277.4 L815.3 275.5 L817.2 274.2 L817.8 274.4 L819.2 271.8 L821.1 273.0 L821.5 270.2 L823.1 269.4 L824.4 267.4 L825.0 265.7 L827.0 264.5 L827.7 265.1 L828.9 266.9 L829.4 266.6 L830.8 264.5 L832.8 263.8 L834.7 264.5 L835.9 264.4 L836.7 266.9 L838.6 268.2 L840.6 269.4 L842.5 270.6 L844.5 269.4 L845.5 270.0 L846.4 273.0 L848.4 274.2 L849.5 274.5 L850.3 276.7 L852.3 277.9 L853.2 280.1 L854.2 280.3 L855.3 281.5 L856.2 284.0 L856.6 282.7 L858.1 280.3 L858.9 281.4 L860.1 284.0 L860.8 285.2 L862.0 286.4 L862.7 288.1 L864.0 288.9 L864.3 291.6 L864.5 291.3 L865.4 293.7 L865.4 294.5 L865.9 298.5 L866.2 299.2 L867.0 297.5 L867.0 297.3 L866.8 293.7 L866.9 292.8 L867.4 291.1 L867.7 289.0 L868.8 287.0 L869.1 286.1 L869.8 284.3 L870.7 282.0 L872.3 281.0 L873.0 282.6 L872.9 284.9 L873.9 286.1 L874.7 285.0 L875.6 282.0 L877.2 281.0 L878.8 280.0 L880.1 281.1 L880.4 283.0 L881.1 285.3 L882.0 286.1 L883.7 288.1 L885.3 290.1 L886.9 291.1 L888.5 293.2 L890.2 295.2 L891.8 297.2 L892.3 297.9 L893.0 301.3 L893.0 299.4 L893.4 296.8 L893.7 295.5 L893.3 294.6 L893.6 293.7 L893.8 291.1 L893.7 288.4 L893.9 286.7 L894.6 287.5 L893.8 285.3 L893.9 282.5 L894.5 281.3 L894.4 278.8 L894.7 278.3 L894.6 276.9 L894.6 276.3 L894.6 274.2 L895.1 272.2 L895.0 269.6 L894.8 269.3 L895.6 267.1 L895.0 265.9 L895.4 264.8 L895.6 265.8 L895.6 267.7 L895.6 269.1 L896.2 271.3 L896.2 272.9 L896.6 273.3 L897.2 275.4 L896.4 278.7 L897.1 279.0 L897.0 277.9 L897.7 274.7 L897.7 275.4 L898.0 273.0 L897.7 271.2 L898.0 269.9 L897.5 268.9 L897.8 265.5 L897.9 264.8 L897.9 266.5 L898.7 268.8 L898.5 269.9 L898.7 270.9 L899.9 272.9 L900.2 271.4 L901.1 268.8 L901.3 268.2 L902.3 265.8 L903.1 268.4 L903.5 268.8 L903.5 269.7 L904.1 272.1 L904.0 273.9 L904.8 274.9 L905.3 278.0 L906.0 279.0 L906.6 277.3 L906.5 276.2 L906.9 273.8 L907.2 272.9 L907.5 270.0 L908.4 269.8 L909.6 270.9 L910.9 268.8 L912.5 267.8 L914.1 266.8 L913.8 269.3 L914.8 268.9 L914.6 271.3 L915.0 273.5 L914.9 274.9 L915.5 276.0 L915.8 276.8 L915.8 279.2 L916.2 280.8 L916.1 283.0 L916.4 281.1 L916.8 279.3 L916.3 278.9 L917.3 277.2 L916.9 274.9 L917.4 272.7 L918.6 271.9 L920.2 270.9 L921.8 271.9 L923.4 269.8 L924.8 269.5 L925.1 266.8 L926.2 264.2 L926.7 263.8 L927.2 263.4 L928.3 260.7 L928.9 260.0 L929.9 257.7 L930.5 256.4 L931.1 253.6 L931.1 251.8 L932.2 250.7 L932.4 248.5 L934.0 247.5 L935.6 246.5 L937.2 247.5 L937.5 245.4 L938.8 244.5 L939.2 241.8 L940.1 241.4" fill="none" stroke="#ff0000" stroke-width="3.5" stroke-linejoin="round" stroke-linecap="round"/>
</g>
<rect x="114.8" y="48.7" width="144.1" height="44.6" rx="7" ry="7" fill="#fbe5d6"/><text x="133.30" y="78.44" font-size="16.8" fill="#3a3a3a" textLength="67.2" lengthAdjust="spacing" style="font-family:'Liberation Serif','Noto Serif CJK SC',serif">证券化率</text><g font-size="17.6" fill="#3a3a3a"><text transform="translate(205.10 78.84) scale(0.84 1)" text-anchor="middle">=</text><text transform="translate(213.70 78.84) scale(0.84 1)" text-anchor="middle">1</text><text transform="translate(219.20 78.84) scale(0.84 1)" text-anchor="middle">.</text><text transform="translate(229.50 78.84) scale(0.84 1)" text-anchor="middle">5</text><text transform="translate(236.80 78.84) scale(0.84 1)" text-anchor="middle">7</text></g>
<rect x="431.4" y="128.5" width="145.1" height="43.4" rx="7" ry="7" fill="#fbe5d6"/><text x="453.30" y="158.84" font-size="16.8" fill="#3a3a3a" textLength="67.2" lengthAdjust="spacing" style="font-family:'Liberation Serif','Noto Serif CJK SC',serif">证券化率</text><g font-size="17.6" fill="#3a3a3a"><text transform="translate(525.10 159.24) scale(0.84 1)" text-anchor="middle">=</text><text transform="translate(533.70 159.24) scale(0.84 1)" text-anchor="middle">1</text><text transform="translate(539.20 159.24) scale(0.84 1)" text-anchor="middle">.</text><text transform="translate(549.50 159.24) scale(0.84 1)" text-anchor="middle">1</text><text transform="translate(556.80 159.24) scale(0.84 1)" text-anchor="middle">6</text></g>
<rect x="847.7" y="311.2" width="144.1" height="43.0" rx="7" ry="7" fill="#fbe5d6"/><text x="868.70" y="340.24" font-size="16.8" fill="#3a3a3a" textLength="67.2" lengthAdjust="spacing" style="font-family:'Liberation Serif','Noto Serif CJK SC',serif">证券化率</text><g font-size="17.6" fill="#3a3a3a"><text transform="translate(940.50 340.64) scale(0.84 1)" text-anchor="middle">=</text><text transform="translate(949.10 340.64) scale(0.84 1)" text-anchor="middle">0</text><text transform="translate(954.60 340.64) scale(0.84 1)" text-anchor="middle">.</text><text transform="translate(964.90 340.64) scale(0.84 1)" text-anchor="middle">8</text><text transform="translate(972.20 340.64) scale(0.84 1)" text-anchor="middle">8</text></g>
</svg></body></html>
